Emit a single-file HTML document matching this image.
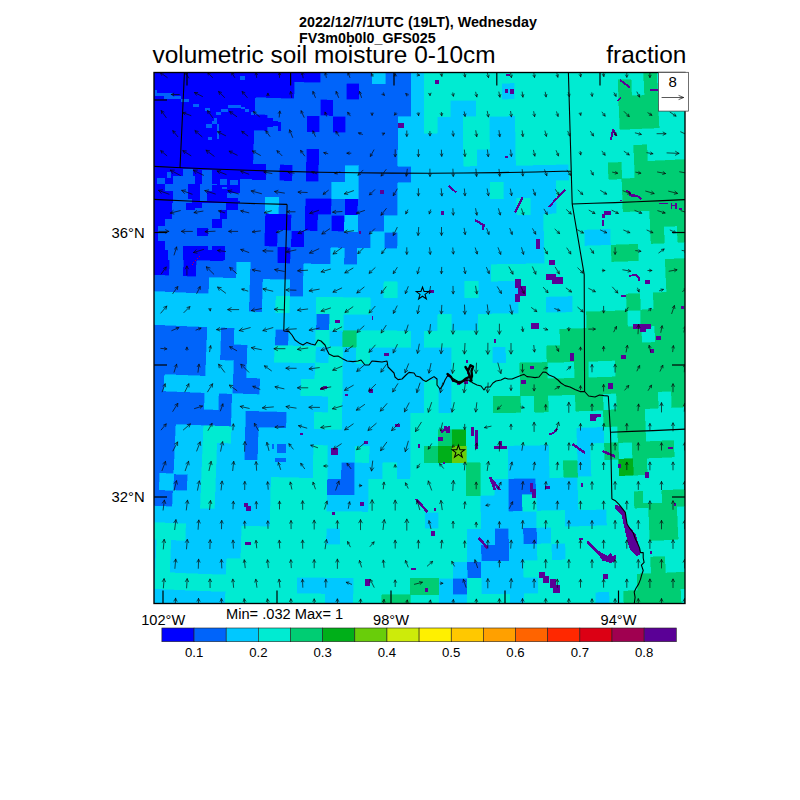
<!DOCTYPE html>
<html><head><meta charset="utf-8"><title>volumetric soil moisture 0-10cm</title>
<style>
html,body{margin:0;padding:0;background:#fff;}
body{width:800px;height:800px;overflow:hidden;font-family:"Liberation Sans",Arial,Helvetica,sans-serif;}
svg{display:block;}
svg text{font-family:"Liberation Sans",Arial,Helvetica,sans-serif;fill:#000;}
</style></head><body>
<svg width="800" height="800" viewBox="0 0 800 800">
<rect width="800" height="800" fill="#fff"/>
<defs><clipPath id="cp"><rect x="154" y="72.5" width="531" height="531"/></clipPath></defs>
<g clip-path="url(#cp)">
<rect x="150" y="70" width="540" height="540" fill="#00ebd2"/>
<g shape-rendering="crispEdges" transform="translate(-1.9,1.3)">
<path fill="#0000ff" stroke="#0000ff" stroke-width="0.6" d="M142.5,58.4 155.4,59.1 168.2,59.8 181.1,60.4 194,61 206.9,61.5 219.8,62.1 232.6,62.5 245.5,63 258.4,63.4 271.3,63.8 284.2,64.2 297.1,64.5 310,64.8 322.8,65.1 322.5,81.6 309.6,81.3 296.7,81 283.7,80.7 270.8,80.3 257.9,79.9 245,79.5 232,79 219.1,78.5 206.2,78 193.3,77.5 180.3,76.9 167.4,76.3 154.5,75.6 141.6,74.9zM141.6,74.9 154.5,75.6 167.4,76.3 180.3,76.9 193.3,77.5 206.2,78 219.1,78.5 232,79 245,79.5 257.9,79.9 270.8,80.3 283.7,80.7 296.7,81 296.3,97.5 283.3,97.2 270.3,96.8 257.4,96.4 244.4,96 231.4,95.5 218.5,95 205.5,94.5 192.5,93.9 179.6,93.4 166.6,92.7 153.6,92.1 140.7,91.4zM348.4,82 361.3,82.2 361.1,98.7 348.2,98.5zM140.7,91.4 153.6,92.1 166.6,92.7 179.6,93.4 192.5,93.9 205.5,94.5 218.5,95 231.4,95.5 244.4,96 257.4,96.4 256.8,112.9 243.8,112.5 230.8,112 217.8,111.5 204.8,111 191.8,110.4 178.8,109.8 165.8,109.2 152.8,108.5 139.8,107.9zM322.2,98.1 335.2,98.3 334.9,114.8 321.9,114.5zM139.8,107.9 152.8,108.5 165.8,109.2 178.8,109.8 191.8,110.4 204.8,111 217.8,111.5 230.8,112 243.8,112.5 256.8,112.9 269.8,113.3 269.4,129.8 256.3,129.4 243.3,128.9 230.2,128.5 217.2,128 204.1,127.5 191.1,126.9 178,126.3 165,125.7 151.9,125 138.9,124.3zM308.9,114.3 321.9,114.5 321.6,131 308.5,130.8zM334.9,114.8 347.9,115 347.7,131.5 334.6,131.3zM138.9,124.3 151.9,125 165,125.7 178,126.3 191.1,126.9 204.1,127.5 217.2,128 230.2,128.5 243.3,128.9 256.3,129.4 255.8,145.8 242.7,145.4 229.6,145 216.5,144.5 203.4,143.9 190.3,143.4 177.3,142.8 164.2,142.1 151.1,141.5 138,140.8zM138,140.8 151.1,141.5 164.2,142.1 177.3,142.8 190.3,143.4 203.4,143.9 216.5,144.5 229.6,145 242.7,145.4 255.8,145.8 255.3,162.3 242.1,161.9 229,161.4 215.9,160.9 202.7,160.4 189.6,159.8 176.5,159.2 163.4,158.6 150.2,157.9 137.1,157.2zM308.2,147.2 321.3,147.5 320.9,164 307.8,163.7zM137.1,157.2 150.2,157.9 163.4,158.6 176.5,159.2 189.6,159.8 202.7,160.4 215.9,160.9 229,161.4 242.1,161.9 255.3,162.3 268.4,162.7 267.9,179.2 254.7,178.8 241.6,178.4 228.4,177.9 215.2,177.4 202,176.9 188.9,176.3 175.7,175.7 162.5,175.1 149.4,174.4 136.2,173.7zM281.5,163.1 294.7,163.4 294.3,179.9 281.1,179.6zM307.8,163.7 320.9,164 320.6,180.5 307.5,180.2zM136.2,173.7 149.4,174.4 162.5,175.1 161.7,191.5 148.5,190.8 135.3,190.1zM188.9,176.3 202,176.9 201.4,193.3 188.1,192.8zM215.2,177.4 228.4,177.9 241.6,178.4 241,194.8 227.8,194.4 214.6,193.9zM135.3,190.1 148.5,190.8 161.7,191.5 174.9,192.1 174.2,208.6 160.9,208 147.7,207.3 134.4,206.6zM188.1,192.8 201.4,193.3 214.6,193.9 213.9,210.3 200.7,209.8 187.4,209.2zM307.1,196.7 320.3,196.9 333.5,197.2 333.3,213.7 320,213.4 306.7,213.1zM346.8,197.4 360,197.6 359.8,214 346.5,213.9zM134.4,206.6 147.7,207.3 160.9,208 174.2,208.6 173.4,225.1 160.1,224.4 146.8,223.8 133.5,223zM213.9,210.3 227.2,210.8 226.6,227.3 213.3,226.8zM267,212.1 280.2,212.5 293.5,212.8 293.1,229.3 279.8,229 266.5,228.6zM306.7,213.1 320,213.4 319.7,229.9 306.4,229.6zM333.3,213.7 346.5,213.9 346.3,230.3 333,230.1zM133.5,223 146.8,223.8 146,240.2 132.6,239.5zM266.5,228.6 279.8,229 279.3,245.4 266,245.1zM293.1,229.3 306.4,229.6 306,246.1 292.7,245.8zM132.6,239.5 146,240.2 159.3,240.9 172.6,241.5 171.9,258 158.5,257.3 145.1,256.7 131.7,255.9zM186,242.1 199.3,242.7 212.6,243.2 226,243.7 225.4,260.2 212,259.7 198.6,259.2 185.2,258.6zM279.3,245.4 292.7,245.8 292.3,262.3 278.9,261.9zM131.7,255.9 145.1,256.7 158.5,257.3 171.9,258 171.1,274.4 157.7,273.8 144.3,273.1 130.8,272.4zM185.2,258.6 198.6,259.2 197.9,275.6 184.5,275z"/>
<path fill="#0064fa" stroke="#0064fa" stroke-width="0.6" d="M322.8,65.1 335.7,65.3 348.6,65.5 361.5,65.7 374.4,65.8 374.3,82.3 361.3,82.2 348.4,82 335.5,81.8 322.5,81.6zM387.3,65.9 400.2,66 413.1,66 413.1,82.5 400.1,82.5 387.2,82.4zM296.7,81 309.6,81.3 322.5,81.6 335.5,81.8 348.4,82 348.2,98.5 335.2,98.3 322.2,98.1 309.2,97.8 296.3,97.5zM361.3,82.2 374.3,82.3 387.2,82.4 400.1,82.5 413.1,82.5 413,99 400.1,99 387.1,98.9 374.1,98.8 361.1,98.7zM257.4,96.4 270.3,96.8 283.3,97.2 296.3,97.5 309.2,97.8 322.2,98.1 321.9,114.5 308.9,114.3 295.9,114 282.9,113.7 269.8,113.3 256.8,112.9zM335.2,98.3 348.2,98.5 361.1,98.7 374.1,98.8 387.1,98.9 400.1,99 413,99 413,115.5 400,115.5 387,115.4 374,115.3 360.9,115.1 347.9,115 334.9,114.8zM269.8,113.3 282.9,113.7 295.9,114 308.9,114.3 308.5,130.8 295.5,130.5 282.4,130.1 269.4,129.8zM321.9,114.5 334.9,114.8 334.6,131.3 321.6,131zM347.9,115 360.9,115.1 374,115.3 387,115.4 400,115.5 399.9,131.9 386.9,131.9 373.8,131.8 360.7,131.6 347.7,131.5zM256.3,129.4 269.4,129.8 282.4,130.1 295.5,130.5 308.5,130.8 321.6,131 334.6,131.3 347.7,131.5 360.7,131.6 373.8,131.8 386.9,131.9 399.9,131.9 399.9,148.4 386.8,148.4 373.7,148.3 360.6,148.1 347.5,148 334.4,147.7 321.3,147.5 308.2,147.2 295.1,146.9 282,146.6 268.9,146.2 255.8,145.8zM255.8,145.8 268.9,146.2 282,146.6 295.1,146.9 308.2,147.2 307.8,163.7 294.7,163.4 281.5,163.1 268.4,162.7 255.3,162.3zM321.3,147.5 334.4,147.7 347.5,148 360.6,148.1 373.7,148.3 386.8,148.4 399.9,148.4 399.8,164.9 386.6,164.8 373.5,164.7 360.4,164.6 347.2,164.4 334.1,164.2 320.9,164zM268.4,162.7 281.5,163.1 281.1,179.6 267.9,179.2zM294.7,163.4 307.8,163.7 307.5,180.2 294.3,179.9zM320.9,164 334.1,164.2 347.2,164.4 347,180.9 333.8,180.7 320.6,180.5zM360.4,164.6 373.5,164.7 386.6,164.8 399.8,164.9 412.9,164.9 412.9,181.4 399.7,181.4 386.5,181.3 373.4,181.2 360.2,181.1zM162.5,175.1 175.7,175.7 188.9,176.3 188.1,192.8 174.9,192.1 161.7,191.5zM202,176.9 215.2,177.4 214.6,193.9 201.4,193.3zM241.6,178.4 254.7,178.8 267.9,179.2 281.1,179.6 294.3,179.9 307.5,180.2 320.6,180.5 333.8,180.7 333.5,197.2 320.3,196.9 307.1,196.7 293.9,196.4 280.7,196 267.4,195.7 254.2,195.3 241,194.8zM360.2,181.1 373.4,181.2 386.5,181.3 399.7,181.4 399.7,197.9 386.4,197.8 373.2,197.7 360,197.6zM174.9,192.1 188.1,192.8 187.4,209.2 174.2,208.6zM214.6,193.9 227.8,194.4 241,194.8 254.2,195.3 267.4,195.7 267,212.1 253.7,211.7 240.4,211.3 227.2,210.8 213.9,210.3zM280.7,196 293.9,196.4 307.1,196.7 306.7,213.1 293.5,212.8 280.2,212.5zM333.5,197.2 346.8,197.4 346.5,213.9 333.3,213.7zM360,197.6 373.2,197.7 386.4,197.8 399.7,197.9 399.6,214.3 386.3,214.3 373.1,214.2 359.8,214zM174.2,208.6 187.4,209.2 200.7,209.8 213.9,210.3 213.3,226.8 200,226.2 186.7,225.7 173.4,225.1zM227.2,210.8 240.4,211.3 253.7,211.7 267,212.1 266.5,228.6 253.2,228.2 239.9,227.8 226.6,227.3zM293.5,212.8 306.7,213.1 306.4,229.6 293.1,229.3zM320,213.4 333.3,213.7 333,230.1 319.7,229.9zM359.8,214 373.1,214.2 386.3,214.3 386.2,230.7 372.9,230.6 359.6,230.5zM146.8,223.8 160.1,224.4 173.4,225.1 186.7,225.7 200,226.2 213.3,226.8 226.6,227.3 239.9,227.8 253.2,228.2 266.5,228.6 266,245.1 252.7,244.7 239.3,244.2 226,243.7 212.6,243.2 199.3,242.7 186,242.1 172.6,241.5 159.3,240.9 146,240.2zM279.8,229 293.1,229.3 292.7,245.8 279.3,245.4zM306.4,229.6 319.7,229.9 333,230.1 346.3,230.3 359.6,230.5 372.9,230.6 372.8,247.1 359.4,247 346.1,246.8 332.7,246.6 319.4,246.4 306,246.1zM386.2,230.7 399.5,230.8 399.4,247.3 386.1,247.2zM172.6,241.5 186,242.1 185.2,258.6 171.9,258zM226,243.7 239.3,244.2 252.7,244.7 266,245.1 279.3,245.4 278.9,261.9 265.5,261.5 252.1,261.1 238.7,260.7 225.4,260.2zM292.7,245.8 306,246.1 319.4,246.4 332.7,246.6 332.4,263.1 319.1,262.8 305.7,262.6 292.3,262.3zM346.1,246.8 359.4,247 359.2,263.4 345.8,263.3zM171.9,258 185.2,258.6 184.5,275 171.1,274.4zM198.6,259.2 212,259.7 225.4,260.2 238.7,260.7 238.2,277.1 224.8,276.7 211.3,276.2 197.9,275.6zM252.1,261.1 265.5,261.5 278.9,261.9 292.3,262.3 305.7,262.6 305.3,279 291.9,278.7 278.5,278.4 265,278 251.6,277.6zM130.8,272.4 144.3,273.1 157.7,273.8 171.1,274.4 184.5,275 197.9,275.6 211.3,276.2 210.7,292.6 197.2,292.1 183.8,291.5 170.3,290.9 156.9,290.2 143.4,289.6 130,288.8zM251.6,277.6 265,278 264.5,294.5 251.1,294.1zM291.9,278.7 305.3,279 305,295.5 291.5,295.2zM251.1,294.1 264.5,294.5 264.1,310.9 250.6,310.5zM318.1,312.2 331.6,312.5 331.3,328.9 317.8,328.7zM128.2,321.7 141.7,322.5 155.2,323.1 168.8,323.8 182.3,324.4 195.9,325 209.4,325.5 208.8,342 195.2,341.4 181.6,340.9 168,340.2 154.4,339.6 140.8,338.9 127.3,338.2zM222.9,326.1 236.5,326.5 235.9,343 222.3,342.5zM277.1,327.8 290.7,328.1 290.3,344.6 276.7,344.2zM127.3,338.2 140.8,338.9 154.4,339.6 168,340.2 181.6,340.9 195.2,341.4 208.8,342 208.1,358.5 194.5,357.9 180.9,357.3 167.2,356.7 153.6,356 140,355.4 126.4,354.6zM222.3,342.5 235.9,343 249.5,343.4 249,359.9 235.4,359.5 221.7,359zM126.4,354.6 140,355.4 153.6,356 167.2,356.7 180.9,357.3 194.5,357.9 208.1,358.5 207.5,374.9 193.8,374.4 180.1,373.8 166.5,373.2 152.8,372.5 139.1,371.8 125.5,371.1zM235.4,359.5 249,359.9 248.5,376.4 234.8,375.9zM125.5,371.1 139.1,371.8 152.8,372.5 166.5,373.2 165.7,389.6 152,389 138.3,388.3 124.6,387.5zM234.8,375.9 248.5,376.4 262.1,376.8 261.7,393.3 247.9,392.8 234.2,392.4zM124.6,387.5 138.3,388.3 152,389 165.7,389.6 179.4,390.2 193.1,390.8 206.8,391.4 206.2,407.9 192.4,407.3 178.7,406.7 164.9,406.1 151.2,405.4 137.4,404.7 123.7,404zM220.5,391.9 234.2,392.4 233.7,408.9 219.9,408.4zM123.7,404 137.4,404.7 151.2,405.4 164.9,406.1 178.7,406.7 192.4,407.3 206.2,407.9 219.9,408.4 233.7,408.9 233.1,425.3 219.3,424.8 205.5,424.3 191.7,423.8 177.9,423.2 164.1,422.5 150.4,421.9 136.6,421.2 122.8,420.4zM247.4,409.3 261.2,409.7 274.9,410.1 288.7,410.5 288.3,426.9 274.5,426.6 260.7,426.2 246.9,425.8zM122.8,420.4 136.6,421.2 150.4,421.9 164.1,422.5 177.9,423.2 177.2,439.6 163.4,439 149.5,438.3 135.7,437.6 121.9,436.9zM246.9,425.8 260.7,426.2 260.2,442.7 246.4,442.3zM121.9,436.9 135.7,437.6 149.5,438.3 163.4,439 177.2,439.6 176.5,456.1 162.6,455.5 148.7,454.8 134.9,454.1 121,453.4zM246.4,442.3 260.2,442.7 259.7,459.2 245.9,458.7zM121,453.4 134.9,454.1 148.7,454.8 162.6,455.5 176.5,456.1 175.7,472.6 161.8,471.9 147.9,471.3 134,470.6 120.1,469.8zM343,461 356.9,461.1 356.7,477.6 342.8,477.5zM120.1,469.8 134,470.6 147.9,471.3 161.8,471.9 161.1,488.4 147.1,487.7 133.2,487 119.2,486.3zM175.7,472.6 189.7,473.2 189,489.7 175,489.1zM328.9,477.2 342.8,477.5 356.7,477.6 356.5,494.1 342.6,493.9 328.6,493.7zM509.9,477.3 523.8,477.1 537.8,476.8 538.1,493.3 524.2,493.5 510.2,493.8zM119.2,486.3 133.2,487 147.1,487.7 161.1,488.4 175,489.1 174.3,505.5 160.3,504.9 146.3,504.2 132.3,503.5 118.3,502.8zM510.2,493.8 524.2,493.5 524.5,510 510.4,510.3zM496.7,527 510.7,526.8 511,543.3 496.9,543.5zM524.8,526.5 538.8,526.3 539.2,542.8 525.1,543zM482.8,543.7 496.9,543.5 511,543.3 511.2,559.8 497.1,560 483,560.2zM468.8,560.3 483,560.2 483.2,576.7 469,576.8zM454.8,576.9 469,576.8 469.1,593.3 454.9,593.4z"/>
<path fill="#00c8ff" stroke="#00c8ff" stroke-width="0.6" d="M374.4,65.8 387.3,65.9 387.2,82.4 374.3,82.3zM413.1,66 426,66 426,82.5 413.1,82.5zM413.1,82.5 426,82.5 426,99 413,99zM503.6,81.9 516.5,81.6 516.8,98.1 503.9,98.3zM413,99 426,99 426,115.5 413,115.5zM452,98.9 464.9,98.8 477.9,98.7 478.1,115.2 465.1,115.3 452.1,115.4zM400,115.5 413,115.5 426,115.5 426,132 413,132 399.9,131.9zM439,115.5 452.1,115.4 465.1,115.3 465.2,131.8 452.2,131.9 439.1,132zM491.1,115 504.1,114.8 517.1,114.6 517.4,131.1 504.4,131.3 491.3,131.5zM399.9,131.9 413,132 426,132 439.1,132 452.2,131.9 465.2,131.8 465.4,148.3 452.3,148.4 439.2,148.4 426.1,148.5 413,148.5 399.9,148.4zM491.3,131.5 504.4,131.3 517.4,131.1 517.7,147.6 504.6,147.8 491.5,148zM399.9,148.4 413,148.5 426.1,148.5 439.2,148.4 452.3,148.4 465.4,148.3 465.5,164.8 452.4,164.9 439.2,164.9 426.1,165 412.9,164.9 399.8,164.9zM478.4,148.2 491.5,148 504.6,147.8 517.7,147.6 518,164.1 504.9,164.3 491.8,164.5 478.6,164.6zM347.2,164.4 360.4,164.6 360.2,181.1 347,180.9zM412.9,164.9 426.1,165 439.2,164.9 452.4,164.9 465.5,164.8 478.6,164.6 491.8,164.5 504.9,164.3 518,164.1 531.2,163.8 544.3,163.5 557.5,163.2 570.6,162.8 571.1,179.3 557.9,179.7 544.7,180 531.5,180.3 518.4,180.5 505.2,180.8 492,181 478.8,181.1 465.6,181.2 452.4,181.3 439.3,181.4 426.1,181.4 412.9,181.4zM333.8,180.7 347,180.9 360.2,181.1 360,197.6 346.8,197.4 333.5,197.2zM399.7,181.4 412.9,181.4 426.1,181.4 439.3,181.4 452.4,181.3 465.6,181.2 478.8,181.1 492,181 492.2,197.4 479,197.6 465.8,197.7 452.5,197.8 439.3,197.9 426.1,197.9 412.9,197.9 399.7,197.9zM505.2,180.8 518.4,180.5 531.5,180.3 544.7,180 557.9,179.7 558.3,196.1 545.1,196.5 531.9,196.7 518.7,197 505.4,197.2zM267.4,195.7 280.7,196 280.2,212.5 267,212.1zM399.7,197.9 412.9,197.9 426.1,197.9 439.3,197.9 452.5,197.8 465.8,197.7 479,197.6 492.2,197.4 505.4,197.2 518.7,197 519,213.5 505.7,213.7 492.4,213.9 479.2,214.1 465.9,214.2 452.6,214.3 439.4,214.4 426.1,214.4 412.8,214.4 399.6,214.3zM531.9,196.7 545.1,196.5 558.3,196.1 558.7,212.6 545.5,212.9 532.2,213.2zM346.5,213.9 359.8,214 359.6,230.5 346.3,230.3zM386.3,214.3 399.6,214.3 412.8,214.4 426.1,214.4 439.4,214.4 452.6,214.3 465.9,214.2 479.2,214.1 492.4,213.9 505.7,213.7 519,213.5 532.2,213.2 545.5,212.9 545.9,229.4 532.6,229.7 519.3,230 506,230.2 492.7,230.4 479.4,230.5 466,230.7 452.7,230.8 439.4,230.8 426.1,230.9 412.8,230.9 399.5,230.8 386.2,230.7zM372.9,230.6 386.2,230.7 386.1,247.2 372.8,247.1zM399.5,230.8 412.8,230.9 426.1,230.9 439.4,230.8 452.7,230.8 466,230.7 479.4,230.5 492.7,230.4 506,230.2 519.3,230 532.6,229.7 545.9,229.4 546.3,245.9 532.9,246.2 519.6,246.4 506.2,246.7 492.9,246.9 479.5,247 466.2,247.1 452.8,247.2 439.5,247.3 426.1,247.3 412.8,247.3 399.4,247.3zM585.8,228.3 599.1,227.9 612.4,227.4 613,243.9 599.6,244.3 586.3,244.8zM332.7,246.6 346.1,246.8 345.8,263.3 332.4,263.1zM359.4,247 372.8,247.1 386.1,247.2 399.4,247.3 412.8,247.3 426.1,247.3 439.5,247.3 452.8,247.2 466.2,247.1 479.5,247 492.9,246.9 506.2,246.7 519.6,246.4 532.9,246.2 546.3,245.9 546.7,262.3 533.3,262.6 519.9,262.9 506.5,263.1 493.1,263.3 479.7,263.5 466.3,263.6 452.9,263.7 439.6,263.8 426.2,263.8 412.8,263.8 399.4,263.8 386,263.7 372.6,263.6 359.2,263.4zM238.7,260.7 252.1,261.1 251.6,277.6 238.2,277.1zM305.7,262.6 319.1,262.8 332.4,263.1 345.8,263.3 359.2,263.4 372.6,263.6 386,263.7 399.4,263.8 412.8,263.8 426.2,263.8 439.6,263.8 452.9,263.7 466.3,263.6 479.7,263.5 493.1,263.3 493.3,279.8 479.9,280 466.5,280.1 453,280.2 439.6,280.2 426.2,280.3 412.7,280.3 399.3,280.2 385.9,280.2 372.5,280.1 359,279.9 345.6,279.7 332.2,279.5 318.7,279.3 305.3,279zM211.3,276.2 224.8,276.7 238.2,277.1 251.6,277.6 251.1,294.1 237.6,293.6 224.2,293.1 210.7,292.6zM265,278 278.5,278.4 291.9,278.7 291.5,295.2 278,294.8 264.5,294.5zM305.3,279 318.7,279.3 332.2,279.5 345.6,279.7 359,279.9 372.5,280.1 385.9,280.2 385.8,296.6 372.3,296.5 358.8,296.4 345.4,296.2 331.9,296 318.4,295.8 305,295.5zM399.3,280.2 412.7,280.3 426.2,280.3 439.6,280.2 453,280.2 466.5,280.1 466.6,296.6 453.1,296.7 439.7,296.7 426.2,296.8 412.7,296.7 399.2,296.7zM479.9,280 493.3,279.8 506.8,279.6 520.2,279.4 520.5,295.8 507,296.1 493.5,296.3 480.1,296.4zM130,288.8 143.4,289.6 156.9,290.2 170.3,290.9 183.8,291.5 197.2,292.1 210.7,292.6 224.2,293.1 237.6,293.6 251.1,294.1 250.6,310.5 237.1,310.1 223.6,309.6 210,309.1 196.5,308.5 183,308 169.5,307.3 156,306.7 142.6,306 129.1,305.3zM264.5,294.5 278,294.8 277.6,311.3 264.1,310.9zM291.5,295.2 305,295.5 318.4,295.8 318.1,312.2 304.6,312 291.1,311.7zM372.3,296.5 385.8,296.6 399.2,296.7 412.7,296.7 426.2,296.8 439.7,296.7 453.1,296.7 466.6,296.6 480.1,296.4 493.5,296.3 507,296.1 520.5,295.8 520.8,312.3 507.3,312.5 493.8,312.7 480.3,312.9 466.7,313 453.2,313.1 439.7,313.2 426.2,313.2 412.7,313.2 399.2,313.2 385.7,313.1 372.2,313zM547.4,295.3 560.9,294.9 574.4,294.6 574.8,311 561.3,311.4 547.8,311.7zM129.1,305.3 142.6,306 156,306.7 169.5,307.3 183,308 196.5,308.5 210,309.1 223.6,309.6 237.1,310.1 250.6,310.5 264.1,310.9 277.6,311.3 291.1,311.7 304.6,312 318.1,312.2 317.8,328.7 304.2,328.4 290.7,328.1 277.1,327.8 263.6,327.4 250,327 236.5,326.5 222.9,326.1 209.4,325.5 195.9,325 182.3,324.4 168.8,323.8 155.2,323.1 141.7,322.5 128.2,321.7zM345.1,312.7 358.6,312.9 372.2,313 385.7,313.1 399.2,313.2 412.7,313.2 426.2,313.2 439.7,313.2 439.8,329.7 426.2,329.7 412.7,329.7 399.1,329.7 385.6,329.6 372,329.5 358.4,329.3 344.9,329.2zM453.2,313.1 466.7,313 480.3,312.9 480.4,329.4 466.9,329.5 453.3,329.6zM209.4,325.5 222.9,326.1 222.3,342.5 208.8,342zM236.5,326.5 250,327 263.6,327.4 277.1,327.8 276.7,344.2 263.1,343.9 249.5,343.4 235.9,343zM290.7,328.1 304.2,328.4 317.8,328.7 317.5,345.2 303.9,344.9 290.3,344.6zM331.3,328.9 344.9,329.2 344.7,345.6 331.1,345.4zM412.7,329.7 426.2,329.7 426.2,346.2 412.6,346.2zM208.8,342 222.3,342.5 221.7,359 208.1,358.5zM249.5,343.4 263.1,343.9 276.7,344.2 276.3,360.7 262.6,360.3 249,359.9zM317.5,345.2 331.1,345.4 330.8,361.9 317.2,361.6zM344.7,345.6 358.3,345.8 358.1,362.3 344.4,362.1zM371.9,345.9 385.4,346.1 399,346.1 412.6,346.2 426.2,346.2 439.8,346.1 453.4,346.1 453.5,362.5 439.9,362.6 426.3,362.6 412.6,362.6 399,362.6 385.3,362.5 371.7,362.4zM494.2,345.7 507.8,345.5 508.1,361.9 494.4,362.1zM208.1,358.5 221.7,359 235.4,359.5 234.8,375.9 221.1,375.4 207.5,374.9zM249,359.9 262.6,360.3 276.3,360.7 289.9,361.1 303.5,361.4 317.2,361.6 316.8,378.1 303.2,377.8 289.5,377.5 275.8,377.2 262.1,376.8 248.5,376.4zM344.4,362.1 358.1,362.3 371.7,362.4 385.3,362.5 399,362.6 412.6,362.6 426.3,362.6 439.9,362.6 453.5,362.5 453.6,379 439.9,379.1 426.3,379.1 412.6,379.1 398.9,379.1 385.2,379 371.6,378.9 357.9,378.7 344.2,378.6zM166.5,373.2 180.1,373.8 193.8,374.4 207.5,374.9 221.1,375.4 234.8,375.9 234.2,392.4 220.5,391.9 206.8,391.4 193.1,390.8 179.4,390.2 165.7,389.6zM262.1,376.8 275.8,377.2 289.5,377.5 303.2,377.8 302.8,394.3 289.1,394 275.4,393.6 261.7,393.3zM344.2,378.6 357.9,378.7 371.6,378.9 385.2,379 398.9,379.1 412.6,379.1 426.3,379.1 426.3,395.6 412.6,395.6 398.8,395.5 385.1,395.5 371.4,395.4 357.7,395.2 344,395zM439.9,379.1 453.6,379 453.7,395.5 440,395.6zM206.8,391.4 220.5,391.9 219.9,408.4 206.2,407.9zM234.2,392.4 247.9,392.8 261.7,393.3 275.4,393.6 289.1,394 302.8,394.3 316.5,394.6 330.2,394.8 330,411.3 316.2,411.1 302.5,410.8 288.7,410.5 274.9,410.1 261.2,409.7 247.4,409.3 233.7,408.9zM344,395 357.7,395.2 371.4,395.4 385.1,395.5 398.8,395.5 412.6,395.6 426.3,395.6 426.3,412.1 412.5,412.1 398.8,412 385,412 371.3,411.8 357.5,411.7 343.7,411.5zM440,395.6 453.7,395.5 453.8,412 440.1,412zM233.7,408.9 247.4,409.3 246.9,425.8 233.1,425.3zM288.7,410.5 302.5,410.8 316.2,411.1 315.9,427.5 302.1,427.3 288.3,426.9zM343.7,411.5 357.5,411.7 371.3,411.8 385,412 398.8,412 412.5,412.1 412.5,428.5 398.7,428.5 384.9,428.4 371.1,428.3 357.3,428.2 343.5,428zM177.9,423.2 191.7,423.8 205.5,424.3 204.9,440.8 191,440.2 177.2,439.6zM233.1,425.3 246.9,425.8 246.4,442.3 232.5,441.8zM260.7,426.2 274.5,426.6 288.3,426.9 302.1,427.3 315.9,427.5 329.7,427.8 343.5,428 357.3,428.2 371.1,428.3 384.9,428.4 398.7,428.5 412.5,428.5 412.5,445 398.6,445 384.8,444.9 371,444.8 357.1,444.7 343.3,444.5 329.4,444.3 315.6,444 301.7,443.7 287.9,443.4 274.1,443.1 260.2,442.7zM578.1,426.3 591.9,425.9 605.7,425.5 606.3,441.9 592.4,442.4 578.6,442.8zM177.2,439.6 191,440.2 204.9,440.8 204.2,457.3 190.4,456.7 176.5,456.1zM218.7,441.3 232.5,441.8 246.4,442.3 245.9,458.7 232,458.3 218.1,457.8zM260.2,442.7 274.1,443.1 287.9,443.4 301.7,443.7 315.6,444 315.3,460.5 301.4,460.2 287.5,459.9 273.6,459.6 259.7,459.2zM329.4,444.3 343.3,444.5 357.1,444.7 356.9,461.1 343,461 329.1,460.8zM371,444.8 384.8,444.9 398.6,445 412.5,445 412.5,461.5 398.6,461.5 384.7,461.4 370.8,461.3zM509.4,444.3 523.2,444.1 537.1,443.8 550.9,443.5 551.3,460 537.4,460.3 523.5,460.6 509.7,460.8zM578.6,442.8 592.4,442.4 592.9,458.9 579.1,459.3zM176.5,456.1 190.4,456.7 204.2,457.3 203.6,473.7 189.7,473.2 175.7,472.6zM218.1,457.8 232,458.3 245.9,458.7 259.7,459.2 273.6,459.6 287.5,459.9 301.4,460.2 315.3,460.5 314.9,477 301,476.7 287.1,476.4 273.2,476 259.3,475.6 245.3,475.2 231.4,474.8 217.5,474.3zM329.1,460.8 343,461 342.8,477.5 328.9,477.2zM356.9,461.1 370.8,461.3 384.7,461.4 384.6,477.9 370.7,477.8 356.7,477.6zM398.6,461.5 412.5,461.5 412.4,478 398.5,478zM509.7,460.8 523.5,460.6 537.4,460.3 551.3,460 551.7,476.5 537.8,476.8 523.8,477.1 509.9,477.3zM579.1,459.3 592.9,458.9 593.5,475.3 579.5,475.7zM161.8,471.9 175.7,472.6 175,489.1 161.1,488.4zM189.7,473.2 203.6,473.7 202.9,490.2 189,489.7zM217.5,474.3 231.4,474.8 245.3,475.2 259.3,475.6 273.2,476 272.7,492.5 258.8,492.1 244.8,491.7 230.8,491.2 216.9,490.7zM356.7,477.6 370.7,477.8 370.5,494.3 356.5,494.1zM496,477.5 509.9,477.3 510.2,493.8 496.2,494zM537.8,476.8 551.7,476.5 565.6,476.1 579.5,475.7 580,492.2 566,492.6 552.1,493 538.1,493.3zM175,489.1 189,489.7 202.9,490.2 202.3,506.7 188.3,506.1 174.3,505.5zM216.9,490.7 230.8,491.2 244.8,491.7 258.8,492.1 272.7,492.5 272.3,509 258.3,508.6 244.3,508.2 230.3,507.7 216.3,507.2zM328.6,493.7 342.6,493.9 356.5,494.1 370.5,494.3 370.4,510.8 356.3,510.6 342.3,510.4 328.3,510.2zM482.3,494.2 496.2,494 510.2,493.8 510.4,510.3 496.4,510.5 482.4,510.7zM538.1,493.3 552.1,493 566,492.6 580,492.2 580.5,508.7 566.5,509.1 552.5,509.5 538.5,509.8zM118.3,502.8 132.3,503.5 146.3,504.2 160.3,504.9 174.3,505.5 188.3,506.1 202.3,506.7 216.3,507.2 230.3,507.7 244.3,508.2 258.3,508.6 272.3,509 271.9,525.5 257.8,525.1 243.8,524.7 229.7,524.2 215.7,523.7 201.6,523.2 187.6,522.6 173.6,522 159.5,521.4 145.5,520.7 131.5,520 117.4,519.2zM426.4,511 440.4,511 440.5,527.5 426.4,527.5zM482.4,510.7 496.4,510.5 510.4,510.3 524.5,510 538.5,509.8 538.8,526.3 524.8,526.5 510.7,526.8 496.7,527 482.6,527.2zM566.5,509.1 580.5,508.7 594.5,508.3 608.5,507.9 609,524.3 595,524.8 581,525.2 566.9,525.6zM187.6,522.6 201.6,523.2 215.7,523.7 229.7,524.2 243.8,524.7 243.2,541.2 229.2,540.7 215.1,540.2 201,539.7 186.9,539.1zM328,526.7 342.1,526.9 341.9,543.4 327.8,543.2zM468.6,527.3 482.6,527.2 496.7,527 496.9,543.5 482.8,543.7 468.7,543.8zM510.7,526.8 524.8,526.5 525.1,543 511,543.3zM538.8,526.3 552.9,525.9 553.2,542.4 539.2,542.8zM116.5,535.7 130.6,536.5 144.7,537.2 158.7,537.9 158,554.4 143.9,553.7 129.7,553 115.6,552.2zM172.8,538.5 186.9,539.1 201,539.7 215.1,540.2 229.2,540.7 243.2,541.2 242.7,557.7 228.6,557.2 214.5,556.7 200.3,556.2 186.2,555.6 172.1,555zM468.7,543.8 482.8,543.7 483,560.2 468.8,560.3zM511,543.3 525.1,543 539.2,542.8 539.5,559.3 525.4,559.5 511.2,559.8zM553.2,542.4 567.3,542.1 567.8,558.6 553.6,559zM115.6,552.2 129.7,553 143.9,553.7 158,554.4 157.2,570.8 143,570.2 128.9,569.5 114.7,568.7zM172.1,555 186.2,555.6 200.3,556.2 214.5,556.7 228.6,557.2 228,573.7 213.9,573.2 199.7,572.7 185.5,572.1 171.4,571.5zM454.7,560.4 468.8,560.3 469,576.8 454.8,576.9zM483,560.2 497.1,560 511.2,559.8 525.4,559.5 525.7,576.1 511.5,576.3 497.3,576.5 483.2,576.7zM114.7,568.7 128.9,569.5 143,570.2 157.2,570.8 156.4,587.4 142.2,586.7 128,585.9 113.8,585.2zM298.9,575.7 313.1,576 327.2,576.2 341.4,576.5 355.6,576.6 355.4,593.2 341.2,593 326.9,592.8 312.7,592.5 298.5,592.2zM440.6,577 454.8,576.9 454.9,593.4 440.7,593.5zM483.2,576.7 497.3,576.5 511.5,576.3 525.7,576.1 539.9,575.8 540.2,592.3 526,592.6 511.8,592.8 497.6,593 483.3,593.2zM113.8,585.2 128,585.9 142.2,586.7 156.4,587.4 170.6,588 184.8,588.6 199,589.2 213.3,589.7 227.5,590.2 226.9,606.7 212.6,606.2 198.4,605.7 184.1,605.1 169.9,604.5 155.7,603.9 141.4,603.2 127.2,602.5 112.9,601.7zM326.9,592.8 341.2,593 355.4,593.2 355.2,609.7 340.9,609.5 326.7,609.3zM440.7,593.5 454.9,593.4 469.1,593.3 469.3,609.9 455,610 440.7,610zM511.8,592.8 526,592.6 526.3,609.1 512,609.3zM597.1,590.8 611.3,590.4 611.8,606.9 597.6,607.3z"/>
<path fill="#00ebd2" stroke="#00ebd2" stroke-width="0.6" d="M426,66 438.9,66 451.8,65.9 464.7,65.8 477.5,65.7 490.4,65.5 503.3,65.4 516.2,65.1 529.1,64.9 542,64.6 554.9,64.3 567.8,63.9 580.7,63.5 593.5,63.1 606.4,62.7 619.3,62.2 632.2,61.7 645.1,61.1 645.8,77.6 632.9,78.2 619.9,78.7 607,79.2 594.1,79.6 581.2,80 568.2,80.4 555.3,80.8 542.4,81.1 529.5,81.4 516.5,81.6 503.6,81.9 490.7,82 477.7,82.2 464.8,82.3 451.9,82.4 438.9,82.5 426,82.5zM658,60.5 670.8,59.9 683.7,59.3 696.6,58.6 697.5,75.1 684.6,75.8 671.6,76.4 658.7,77zM426,82.5 438.9,82.5 451.9,82.4 464.8,82.3 477.7,82.2 490.7,82 503.6,81.9 503.9,98.3 490.9,98.5 477.9,98.7 464.9,98.8 452,98.9 439,99 426,99zM516.5,81.6 529.5,81.4 542.4,81.1 555.3,80.8 568.2,80.4 581.2,80 594.1,79.6 607,79.2 619.9,78.7 620.6,95.2 607.6,95.6 594.7,96.1 581.7,96.5 568.7,96.9 555.7,97.3 542.8,97.6 529.8,97.9 516.8,98.1zM632.9,78.2 645.8,77.6 646.5,94.1 633.6,94.6zM658.7,77 671.6,76.4 684.6,75.8 697.5,75.1 698.4,91.6 685.4,92.2 672.4,92.9 659.5,93.5zM426,99 439,99 452,98.9 452.1,115.4 439,115.5 426,115.5zM477.9,98.7 490.9,98.5 503.9,98.3 516.8,98.1 529.8,97.9 542.8,97.6 555.7,97.3 568.7,96.9 581.7,96.5 594.7,96.1 607.6,95.6 620.6,95.2 621.2,111.6 608.2,112.1 595.2,112.6 582.2,113 569.2,113.4 556.2,113.7 543.2,114.1 530.1,114.4 517.1,114.6 504.1,114.8 491.1,115 478.1,115.2zM659.5,93.5 672.4,92.9 685.4,92.2 698.4,91.6 699.2,108 686.2,108.7 673.2,109.4 660.2,110zM426,115.5 439,115.5 439.1,132 426,132zM465.1,115.3 478.1,115.2 491.1,115 491.3,131.5 478.3,131.7 465.2,131.8zM517.1,114.6 530.1,114.4 543.2,114.1 556.2,113.7 569.2,113.4 582.2,113 595.2,112.6 608.2,112.1 621.2,111.6 621.9,128.1 608.8,128.6 595.8,129.1 582.7,129.5 569.7,129.9 556.6,130.2 543.5,130.5 530.5,130.8 517.4,131.1zM660.2,110 673.2,109.4 686.2,108.7 699.2,108 700.1,124.5 687.1,125.2 674,125.8 661,126.5zM465.2,131.8 478.3,131.7 491.3,131.5 491.5,148 478.4,148.2 465.4,148.3zM517.4,131.1 530.5,130.8 543.5,130.5 556.6,130.2 569.7,129.9 582.7,129.5 595.8,129.1 608.8,128.6 621.9,128.1 634.9,127.6 648,127 661,126.5 674,125.8 687.1,125.2 700.1,124.5 701,141 687.9,141.6 674.8,142.3 661.8,142.9 648.7,143.5 635.6,144.1 622.5,144.6 609.4,145.1 596.3,145.5 583.2,146 570.1,146.3 557,146.7 543.9,147 530.8,147.3 517.7,147.6zM465.4,148.3 478.4,148.2 478.6,164.6 465.5,164.8zM517.7,147.6 530.8,147.3 543.9,147 557,146.7 570.1,146.3 583.2,146 596.3,145.5 609.4,145.1 622.5,144.6 635.6,144.1 636.3,160.5 623.1,161.1 610,161.5 596.9,162 583.7,162.4 570.6,162.8 557.5,163.2 544.3,163.5 531.2,163.8 518,164.1zM648.7,143.5 661.8,142.9 674.8,142.3 687.9,141.6 701,141 701.9,157.4 688.8,158.1 675.6,158.8 662.5,159.4 649.4,160zM570.6,162.8 583.7,162.4 596.9,162 610,161.5 610.6,178 597.4,178.5 584.2,178.9 571.1,179.3zM623.1,161.1 636.3,160.5 636.9,177 623.8,177.5zM492,181 505.2,180.8 505.4,197.2 492.2,197.4zM557.9,179.7 571.1,179.3 584.2,178.9 597.4,178.5 610.6,178 623.8,177.5 624.4,194 611.2,194.5 598,194.9 584.8,195.4 571.5,195.8 558.3,196.1zM518.7,197 531.9,196.7 532.2,213.2 519,213.5zM558.3,196.1 571.5,195.8 584.8,195.4 598,194.9 611.2,194.5 624.4,194 625,210.5 611.8,210.9 598.5,211.4 585.3,211.8 572,212.2 558.7,212.6zM545.5,212.9 558.7,212.6 572,212.2 585.3,211.8 598.5,211.4 611.8,210.9 625,210.5 638.3,209.9 651.5,209.4 652.3,225.8 639,226.4 625.7,226.9 612.4,227.4 599.1,227.9 585.8,228.3 572.5,228.7 559.2,229.1 545.9,229.4zM545.9,229.4 559.2,229.1 572.5,228.7 585.8,228.3 586.3,244.8 573,245.2 559.6,245.5 546.3,245.9zM612.4,227.4 625.7,226.9 639,226.4 652.3,225.8 653,242.3 639.6,242.8 626.3,243.4 613,243.9zM665.6,225.2 678.9,224.6 679.7,241 666.3,241.7zM546.3,245.9 559.6,245.5 573,245.2 586.3,244.8 599.6,244.3 613,243.9 613.6,260.3 600.2,260.8 586.8,261.2 573.4,261.6 560,262 546.7,262.3zM639.6,242.8 653,242.3 666.3,241.7 679.7,241 693,240.4 706.3,239.7 707.2,256.1 693.8,256.8 680.5,257.5 667.1,258.1 653.7,258.7 640.3,259.3zM493.1,263.3 506.5,263.1 519.9,262.9 533.3,262.6 546.7,262.3 560,262 573.4,261.6 586.8,261.2 600.2,260.8 613.6,260.3 626.9,259.8 640.3,259.3 653.7,258.7 667.1,258.1 667.8,274.6 654.4,275.2 641,275.8 627.6,276.3 614.2,276.8 600.7,277.3 587.3,277.7 573.9,278.1 560.5,278.5 547,278.8 533.6,279.1 520.2,279.4 506.8,279.6 493.3,279.8zM385.9,280.2 399.3,280.2 399.2,296.7 385.8,296.6zM466.5,280.1 479.9,280 480.1,296.4 466.6,296.6zM520.2,279.4 533.6,279.1 547,278.8 560.5,278.5 573.9,278.1 587.3,277.7 600.7,277.3 614.2,276.8 627.6,276.3 641,275.8 654.4,275.2 667.8,274.6 668.6,291 655.1,291.6 641.7,292.2 628.2,292.8 614.8,293.3 601.3,293.7 587.8,294.2 574.4,294.6 560.9,294.9 547.4,295.3 534,295.6 520.5,295.8zM278,294.8 291.5,295.2 291.1,311.7 277.6,311.3zM318.4,295.8 331.9,296 345.4,296.2 358.8,296.4 372.3,296.5 372.2,313 358.6,312.9 345.1,312.7 331.6,312.5 318.1,312.2zM520.5,295.8 534,295.6 547.4,295.3 547.8,311.7 534.3,312 520.8,312.3zM574.4,294.6 587.8,294.2 601.3,293.7 614.8,293.3 628.2,292.8 628.9,309.2 615.4,309.7 601.8,310.2 588.3,310.6 574.8,311zM641.7,292.2 655.1,291.6 655.9,308.1 642.4,308.7zM331.6,312.5 345.1,312.7 344.9,329.2 331.3,328.9zM439.7,313.2 453.2,313.1 453.3,329.6 439.8,329.7zM480.3,312.9 493.8,312.7 507.3,312.5 520.8,312.3 534.3,312 547.8,311.7 561.3,311.4 574.8,311 588.3,310.6 588.9,327.1 575.3,327.5 561.8,327.9 548.2,328.2 534.7,328.5 521.1,328.8 507.5,329 494,329.2 480.4,329.4zM628.9,309.2 642.4,308.7 643,325.1 629.5,325.7zM317.8,328.7 331.3,328.9 331.1,345.4 317.5,345.2zM358.4,329.3 372,329.5 385.6,329.6 399.1,329.7 412.7,329.7 412.6,346.2 399,346.1 385.4,346.1 371.9,345.9 358.3,345.8zM426.2,329.7 439.8,329.7 453.3,329.6 466.9,329.5 480.4,329.4 494,329.2 507.5,329 521.1,328.8 534.7,328.5 548.2,328.2 561.8,327.9 562.2,344.3 548.6,344.7 535,345 521.4,345.2 507.8,345.5 494.2,345.7 480.6,345.8 467,346 453.4,346.1 439.8,346.1 426.2,346.2zM643,325.1 656.6,324.6 657.3,341 643.7,341.6zM276.7,344.2 290.3,344.6 303.9,344.9 317.5,345.2 317.2,361.6 303.5,361.4 289.9,361.1 276.3,360.7zM331.1,345.4 344.7,345.6 344.4,362.1 330.8,361.9zM358.3,345.8 371.9,345.9 371.7,362.4 358.1,362.3zM453.4,346.1 467,346 480.6,345.8 494.2,345.7 494.4,362.1 480.8,362.3 467.2,362.4 453.5,362.5zM507.8,345.5 521.4,345.2 535,345 548.6,344.7 549,361.1 535.3,361.4 521.7,361.7 508.1,361.9zM317.2,361.6 330.8,361.9 344.4,362.1 344.2,378.6 330.5,378.4 316.8,378.1zM453.5,362.5 467.2,362.4 480.8,362.3 494.4,362.1 508.1,361.9 521.7,361.7 522,378.2 508.3,378.4 494.7,378.6 481,378.8 467.3,378.9 453.6,379zM549,361.1 562.6,360.8 576.2,360.4 576.7,376.9 563,377.3 549.4,377.6zM589.9,360 603.5,359.6 617.1,359.1 617.7,375.6 604.1,376 590.4,376.5zM303.2,377.8 316.8,378.1 330.5,378.4 344.2,378.6 344,395 330.2,394.8 316.5,394.6 302.8,394.3zM426.3,379.1 439.9,379.1 440,395.6 426.3,395.6zM453.6,379 467.3,378.9 481,378.8 494.7,378.6 508.3,378.4 522,378.2 522.3,394.7 508.6,394.9 494.9,395.1 481.2,395.3 467.4,395.4 453.7,395.5zM330.2,394.8 344,395 343.7,411.5 330,411.3zM426.3,395.6 440,395.6 440.1,412 426.3,412.1zM453.7,395.5 467.4,395.4 481.2,395.3 494.9,395.1 495.1,411.6 481.3,411.7 467.6,411.9 453.8,412zM522.3,394.7 536,394.4 536.4,410.9 522.6,411.1zM549.8,394.1 563.5,393.7 577.2,393.4 577.7,409.8 563.9,410.2 550.1,410.6zM604.6,392.5 618.3,392 618.9,408.5 605.2,409zM659.5,390.4 673.2,389.8 673.9,406.2 660.2,406.9zM316.2,411.1 330,411.3 343.7,411.5 343.5,428 329.7,427.8 315.9,427.5zM412.5,412.1 426.3,412.1 440.1,412 453.8,412 467.6,411.9 481.3,411.7 495.1,411.6 508.9,411.4 522.6,411.1 536.4,410.9 550.1,410.6 563.9,410.2 577.7,409.8 591.4,409.4 605.2,409 605.7,425.5 591.9,425.9 578.1,426.3 564.3,426.7 550.5,427 536.7,427.3 522.9,427.6 509.1,427.8 495.3,428.1 481.5,428.2 467.7,428.4 453.9,428.5 440.1,428.5 426.3,428.6 412.5,428.5zM646.4,407.4 660.2,406.9 673.9,406.2 687.7,405.6 701.4,404.9 715.2,404.2 716,420.6 702.3,421.4 688.5,422 674.7,422.7 660.9,423.3 647.1,423.9zM205.5,424.3 219.3,424.8 233.1,425.3 232.5,441.8 218.7,441.3 204.9,440.8zM412.5,428.5 426.3,428.6 440.1,428.5 440.2,445 426.3,445 412.5,445zM467.7,428.4 481.5,428.2 495.3,428.1 509.1,427.8 522.9,427.6 536.7,427.3 550.5,427 564.3,426.7 578.1,426.3 578.6,442.8 564.8,443.2 550.9,443.5 537.1,443.8 523.2,444.1 509.4,444.3 495.6,444.5 481.7,444.7 467.9,444.8zM605.7,425.5 619.5,425 620.1,441.4 606.3,441.9zM647.1,423.9 660.9,423.3 674.7,422.7 688.5,422 702.3,421.4 716,420.6 716.9,437.1 703.1,437.8 689.3,438.5 675.4,439.2 661.6,439.8 647.8,440.4zM204.9,440.8 218.7,441.3 218.1,457.8 204.2,457.3zM315.6,444 329.4,444.3 329.1,460.8 315.3,460.5zM357.1,444.7 371,444.8 370.8,461.3 356.9,461.1zM412.5,445 426.3,445 426.3,461.5 412.5,461.5zM467.9,444.8 481.7,444.7 495.6,444.5 509.4,444.3 509.7,460.8 495.8,461 481.9,461.2 468,461.3zM550.9,443.5 564.8,443.2 578.6,442.8 579.1,459.3 565.2,459.6 551.3,460zM592.4,442.4 606.3,441.9 606.8,458.4 592.9,458.9zM620.1,441.4 633.9,440.9 634.6,457.4 620.7,457.9zM675.4,439.2 689.3,438.5 703.1,437.8 716.9,437.1 717.8,453.6 703.9,454.3 690.1,455 676.2,455.6zM204.2,457.3 218.1,457.8 217.5,474.3 203.6,473.7zM315.3,460.5 329.1,460.8 328.9,477.2 314.9,477zM384.7,461.4 398.6,461.5 398.5,478 384.6,477.9zM412.5,461.5 426.3,461.5 440.2,461.5 454.1,461.4 468,461.3 468.1,477.8 454.2,477.9 440.3,478 426.4,478 412.4,478zM481.9,461.2 495.8,461 509.7,460.8 509.9,477.3 496,477.5 482.1,477.7zM551.3,460 565.2,459.6 565.6,476.1 551.7,476.5zM592.9,458.9 606.8,458.4 620.7,457.9 621.3,474.4 607.4,474.9 593.5,475.3zM648.5,456.8 662.3,456.3 676.2,455.6 690.1,455 703.9,454.3 717.8,453.6 718.7,470 704.8,470.8 690.9,471.4 677,472.1 663.1,472.7 649.1,473.3zM203.6,473.7 217.5,474.3 216.9,490.7 202.9,490.2zM273.2,476 287.1,476.4 301,476.7 314.9,477 328.9,477.2 328.6,493.7 314.6,493.5 300.7,493.2 286.7,492.9 272.7,492.5zM370.7,477.8 384.6,477.9 398.5,478 412.4,478 426.4,478 440.3,478 454.2,477.9 468.1,477.8 468.3,494.3 454.3,494.4 440.3,494.5 426.4,494.5 412.4,494.5 398.4,494.5 384.5,494.4 370.5,494.3zM482.1,477.7 496,477.5 496.2,494 482.3,494.2zM579.5,475.7 593.5,475.3 607.4,474.9 621.3,474.4 635.2,473.9 649.1,473.3 663.1,472.7 677,472.1 690.9,471.4 704.8,470.8 718.7,470 719.6,486.5 705.6,487.2 691.7,487.9 677.7,488.6 663.8,489.2 649.8,489.8 635.9,490.4 621.9,490.9 607.9,491.4 594,491.8 580,492.2zM202.9,490.2 216.9,490.7 216.3,507.2 202.3,506.7zM272.7,492.5 286.7,492.9 300.7,493.2 314.6,493.5 328.6,493.7 328.3,510.2 314.3,510 300.3,509.7 286.3,509.4 272.3,509zM370.5,494.3 384.5,494.4 398.4,494.5 412.4,494.5 426.4,494.5 440.3,494.5 454.3,494.4 468.3,494.3 482.3,494.2 482.4,510.7 468.4,510.8 454.4,510.9 440.4,511 426.4,511 412.4,511 398.4,511 384.4,510.9 370.4,510.8zM524.2,493.5 538.1,493.3 538.5,509.8 524.5,510zM580,492.2 594,491.8 607.9,491.4 621.9,490.9 635.9,490.4 636.5,506.8 622.5,507.4 608.5,507.9 594.5,508.3 580.5,508.7zM649.8,489.8 663.8,489.2 664.5,505.7 650.5,506.3zM272.3,509 286.3,509.4 300.3,509.7 314.3,510 328.3,510.2 342.3,510.4 356.3,510.6 370.4,510.8 384.4,510.9 398.4,511 412.4,511 426.4,511 426.4,527.5 412.4,527.5 398.3,527.5 384.3,527.4 370.2,527.3 356.2,527.1 342.1,526.9 328,526.7 314,526.5 300,526.2 285.9,525.9 271.9,525.5zM440.4,511 454.4,510.9 468.4,510.8 482.4,510.7 482.6,527.2 468.6,527.3 454.5,527.4 440.5,527.5zM538.5,509.8 552.5,509.5 566.5,509.1 566.9,525.6 552.9,525.9 538.8,526.3zM608.5,507.9 622.5,507.4 636.5,506.8 650.5,506.3 651.2,522.8 637.1,523.3 623.1,523.9 609,524.3zM678.5,505.1 692.5,504.4 706.5,503.7 720.5,503 721.3,519.4 707.3,520.2 693.3,520.9 679.2,521.5zM117.4,519.2 131.5,520 145.5,520.7 159.5,521.4 173.6,522 187.6,522.6 186.9,539.1 172.8,538.5 158.7,537.9 144.7,537.2 130.6,536.5 116.5,535.7zM243.8,524.7 257.8,525.1 271.9,525.5 285.9,525.9 300,526.2 314,526.5 328,526.7 327.8,543.2 313.7,543 299.6,542.7 285.5,542.4 271.4,542 257.3,541.6 243.2,541.2zM342.1,526.9 356.2,527.1 370.2,527.3 384.3,527.4 398.3,527.5 412.4,527.5 426.4,527.5 440.5,527.5 454.5,527.4 468.6,527.3 468.7,543.8 454.6,543.9 440.5,544 426.4,544 412.3,544 398.2,544 384.1,543.9 370.1,543.8 356,543.6 341.9,543.4zM552.9,525.9 566.9,525.6 581,525.2 595,524.8 609,524.3 623.1,523.9 637.1,523.3 651.2,522.8 651.8,539.3 637.8,539.8 623.7,540.3 609.6,540.8 595.5,541.3 581.4,541.7 567.3,542.1 553.2,542.4zM679.2,521.5 693.3,520.9 707.3,520.2 721.3,519.4 722.2,535.9 708.2,536.7 694.1,537.4 680,538zM158.7,537.9 172.8,538.5 172.1,555 158,554.4zM243.2,541.2 257.3,541.6 271.4,542 285.5,542.4 299.6,542.7 313.7,543 327.8,543.2 341.9,543.4 356,543.6 370.1,543.8 384.1,543.9 398.2,544 412.3,544 426.4,544 440.5,544 454.6,543.9 468.7,543.8 468.8,560.3 454.7,560.4 440.6,560.5 426.4,560.5 412.3,560.5 398.2,560.5 384,560.4 369.9,560.3 355.8,560.1 341.6,560 327.5,559.7 313.4,559.5 299.2,559.2 285.1,558.9 271,558.5 256.8,558.1 242.7,557.7zM539.2,542.8 553.2,542.4 553.6,559 539.5,559.3zM567.3,542.1 581.4,541.7 595.5,541.3 609.6,540.8 623.7,540.3 637.8,539.8 651.8,539.3 665.9,538.7 680,538 694.1,537.4 708.2,536.7 722.2,535.9 723.1,552.4 709,553.1 694.9,553.9 680.8,554.5 666.6,555.2 652.5,555.8 638.4,556.3 624.3,556.8 610.2,557.3 596,557.8 581.9,558.2 567.8,558.6zM158,554.4 172.1,555 171.4,571.5 157.2,570.8zM228.6,557.2 242.7,557.7 256.8,558.1 271,558.5 285.1,558.9 299.2,559.2 313.4,559.5 327.5,559.7 341.6,560 355.8,560.1 369.9,560.3 384,560.4 398.2,560.5 412.3,560.5 426.4,560.5 440.6,560.5 454.7,560.4 454.8,576.9 440.6,577 426.5,577 412.3,577 398.1,577 383.9,576.9 369.7,576.8 355.6,576.6 341.4,576.5 327.2,576.2 313.1,576 298.9,575.7 284.7,575.4 270.5,575 256.4,574.6 242.2,574.2 228,573.7zM525.4,559.5 539.5,559.3 553.6,559 567.8,558.6 581.9,558.2 596,557.8 610.2,557.3 624.3,556.8 638.4,556.3 652.5,555.8 653.2,572.3 639,572.8 624.9,573.3 610.7,573.8 596.5,574.3 582.4,574.7 568.2,575.1 554,575.5 539.9,575.8 525.7,576.1zM666.6,555.2 680.8,554.5 694.9,553.9 709,553.1 723.1,552.4 724,568.9 709.9,569.6 695.7,570.3 681.5,571 667.4,571.7zM157.2,570.8 171.4,571.5 185.5,572.1 199.7,572.7 213.9,573.2 228,573.7 242.2,574.2 256.4,574.6 270.5,575 284.7,575.4 298.9,575.7 298.5,592.2 284.3,591.9 270.1,591.5 255.9,591.1 241.7,590.7 227.5,590.2 213.3,589.7 199,589.2 184.8,588.6 170.6,588 156.4,587.4zM355.6,576.6 369.7,576.8 383.9,576.9 398.1,577 412.3,577 412.3,593.5 398,593.5 383.8,593.4 369.6,593.3 355.4,593.2zM469,576.8 483.2,576.7 483.3,593.2 469.1,593.3zM539.9,575.8 554,575.5 568.2,575.1 582.4,574.7 596.5,574.3 610.7,573.8 624.9,573.3 639,572.8 639.7,589.3 625.5,589.9 611.3,590.4 597.1,590.8 582.8,591.2 568.6,591.6 554.4,592 540.2,592.3zM227.5,590.2 241.7,590.7 255.9,591.1 270.1,591.5 284.3,591.9 298.5,592.2 312.7,592.5 326.9,592.8 326.7,609.3 312.4,609 298.2,608.7 283.9,608.4 269.7,608 255.4,607.7 241.1,607.2 226.9,606.7zM355.4,593.2 369.6,593.3 383.8,593.4 383.7,609.9 369.4,609.8 355.2,609.7zM412.3,593.5 426.5,593.5 440.7,593.5 440.7,610 426.5,610.1 412.2,610.1zM469.1,593.3 483.3,593.2 497.6,593 511.8,592.8 512,609.3 497.8,609.6 483.5,609.7 469.3,609.9zM526,592.6 540.2,592.3 554.4,592 568.6,591.6 582.8,591.2 597.1,590.8 597.6,607.3 583.3,607.8 569.1,608.1 554.8,608.5 540.5,608.8 526.3,609.1zM611.3,590.4 625.5,589.9 626.1,606.4 611.8,606.9zM682.3,587.5 696.5,586.8 710.7,586.1 724.9,585.4 725.8,601.9 711.5,602.6 697.3,603.4 683.1,604z"/>
<path fill="#00cd73" stroke="#00cd73" stroke-width="0.6" d="M645.1,61.1 658,60.5 658.7,77 645.8,77.6zM619.9,78.7 632.9,78.2 633.6,94.6 620.6,95.2zM645.8,77.6 658.7,77 659.5,93.5 646.5,94.1zM620.6,95.2 633.6,94.6 646.5,94.1 659.5,93.5 660.2,110 647.2,110.6 634.2,111.1 621.2,111.6zM621.2,111.6 634.2,111.1 647.2,110.6 660.2,110 661,126.5 648,127 634.9,127.6 621.9,128.1zM635.6,144.1 648.7,143.5 649.4,160 636.3,160.5zM610,161.5 623.1,161.1 623.8,177.5 610.6,178zM636.3,160.5 649.4,160 662.5,159.4 675.6,158.8 688.8,158.1 701.9,157.4 702.8,173.9 689.6,174.6 676.4,175.2 663.3,175.8 650.1,176.4 636.9,177zM623.8,177.5 636.9,177 650.1,176.4 663.3,175.8 676.4,175.2 689.6,174.6 702.8,173.9 703.7,190.3 690.5,191 677.2,191.7 664,192.3 650.8,192.9 637.6,193.5 624.4,194zM624.4,194 637.6,193.5 650.8,192.9 664,192.3 677.2,191.7 690.5,191 703.7,190.3 704.5,206.8 691.3,207.5 678,208.1 664.8,208.8 651.5,209.4 638.3,209.9 625,210.5zM651.5,209.4 664.8,208.8 678,208.1 691.3,207.5 704.5,206.8 705.4,223.2 692.1,223.9 678.9,224.6 665.6,225.2 652.3,225.8zM652.3,225.8 665.6,225.2 666.3,241.7 653,242.3zM678.9,224.6 692.1,223.9 705.4,223.2 706.3,239.7 693,240.4 679.7,241zM613,243.9 626.3,243.4 639.6,242.8 640.3,259.3 626.9,259.8 613.6,260.3zM667.1,258.1 680.5,257.5 693.8,256.8 707.2,256.1 708.1,272.6 694.7,273.3 681.3,274 667.8,274.6zM667.8,274.6 681.3,274 694.7,273.3 708.1,272.6 709,289 695.5,289.7 682.1,290.4 668.6,291zM628.2,292.8 641.7,292.2 642.4,308.7 628.9,309.2zM655.1,291.6 668.6,291 682.1,290.4 695.5,289.7 709,289 709.8,305.5 696.4,306.2 682.9,306.9 669.4,307.5 655.9,308.1zM588.3,310.6 601.8,310.2 615.4,309.7 628.9,309.2 629.5,325.7 615.9,326.2 602.4,326.7 588.9,327.1zM642.4,308.7 655.9,308.1 669.4,307.5 682.9,306.9 696.4,306.2 709.8,305.5 710.7,321.9 697.2,322.6 683.7,323.3 670.1,323.9 656.6,324.6 643,325.1zM344.9,329.2 358.4,329.3 358.3,345.8 344.7,345.6zM561.8,327.9 575.3,327.5 588.9,327.1 602.4,326.7 615.9,326.2 629.5,325.7 643,325.1 643.7,341.6 630.1,342.1 616.5,342.6 603,343.1 589.4,343.6 575.8,344 562.2,344.3zM656.6,324.6 670.1,323.9 683.7,323.3 697.2,322.6 710.7,321.9 711.6,338.4 698,339.1 684.5,339.8 670.9,340.4 657.3,341zM548.6,344.7 562.2,344.3 575.8,344 589.4,343.6 603,343.1 616.5,342.6 630.1,342.1 643.7,341.6 657.3,341 670.9,340.4 684.5,339.8 698,339.1 711.6,338.4 712.5,354.8 698.9,355.5 685.3,356.2 671.6,356.9 658,357.5 644.4,358.1 630.8,358.6 617.1,359.1 603.5,359.6 589.9,360 576.2,360.4 562.6,360.8 549,361.1zM521.7,361.7 535.3,361.4 549,361.1 549.4,377.6 535.7,377.9 522,378.2zM576.2,360.4 589.9,360 590.4,376.5 576.7,376.9zM617.1,359.1 630.8,358.6 644.4,358.1 658,357.5 671.6,356.9 685.3,356.2 698.9,355.5 712.5,354.8 713.4,371.3 699.7,372 686.1,372.7 672.4,373.3 658.7,373.9 645.1,374.5 631.4,375.1 617.7,375.6zM522,378.2 535.7,377.9 549.4,377.6 563,377.3 576.7,376.9 590.4,376.5 604.1,376 617.7,375.6 631.4,375.1 645.1,374.5 658.7,373.9 672.4,373.3 686.1,372.7 699.7,372 713.4,371.3 714.3,387.7 700.6,388.4 686.9,389.1 673.2,389.8 659.5,390.4 645.7,391 632,391.5 618.3,392 604.6,392.5 590.9,393 577.2,393.4 563.5,393.7 549.8,394.1 536,394.4 522.3,394.7zM494.9,395.1 508.6,394.9 522.3,394.7 522.6,411.1 508.9,411.4 495.1,411.6zM536,394.4 549.8,394.1 550.1,410.6 536.4,410.9zM577.2,393.4 590.9,393 604.6,392.5 605.2,409 591.4,409.4 577.7,409.8zM618.3,392 632,391.5 645.7,391 659.5,390.4 660.2,406.9 646.4,407.4 632.7,408 618.9,408.5zM673.2,389.8 686.9,389.1 700.6,388.4 714.3,387.7 715.2,404.2 701.4,404.9 687.7,405.6 673.9,406.2zM605.2,409 618.9,408.5 632.7,408 646.4,407.4 647.1,423.9 633.3,424.5 619.5,425 605.7,425.5zM440.1,428.5 453.9,428.5 454,444.9 440.2,445zM619.5,425 633.3,424.5 647.1,423.9 647.8,440.4 633.9,440.9 620.1,441.4zM426.3,445 440.2,445 440.2,461.5 426.3,461.5zM606.3,441.9 620.1,441.4 620.7,457.9 606.8,458.4zM633.9,440.9 647.8,440.4 661.6,439.8 675.4,439.2 676.2,455.6 662.3,456.3 648.5,456.8 634.6,457.4zM468,461.3 481.9,461.2 482.1,477.7 468.1,477.8zM565.2,459.6 579.1,459.3 579.5,475.7 565.6,476.1zM634.6,457.4 648.5,456.8 649.1,473.3 635.2,473.9zM468.1,477.8 482.1,477.7 482.3,494.2 468.3,494.3zM635.9,490.4 649.8,489.8 650.5,506.3 636.5,506.8zM663.8,489.2 677.7,488.6 691.7,487.9 705.6,487.2 719.6,486.5 720.5,503 706.5,503.7 692.5,504.4 678.5,505.1 664.5,505.7zM650.5,506.3 664.5,505.7 678.5,505.1 679.2,521.5 665.2,522.2 651.2,522.8zM651.2,522.8 665.2,522.2 679.2,521.5 680,538 665.9,538.7 651.8,539.3zM652.5,555.8 666.6,555.2 667.4,571.7 653.2,572.3zM412.3,577 426.5,577 440.6,577 440.7,593.5 426.5,593.5 412.3,593.5zM639,572.8 653.2,572.3 667.4,571.7 681.5,571 695.7,570.3 709.9,569.6 724,568.9 724.9,585.4 710.7,586.1 696.5,586.8 682.3,587.5 668.1,588.2 653.9,588.8 639.7,589.3zM383.8,593.4 398,593.5 412.3,593.5 412.2,610.1 398,610 383.7,609.9zM625.5,589.9 639.7,589.3 653.9,588.8 668.1,588.2 682.3,587.5 683.1,604 668.8,604.7 654.6,605.3 640.3,605.8 626.1,606.4z"/>
<path fill="#00af19" stroke="#00af19" stroke-width="0.6" d="M453.9,428.5 467.7,428.4 467.9,444.8 454,444.9zM440.2,445 454,444.9 454.1,461.4 440.2,461.5zM620.7,457.9 634.6,457.4 635.2,473.9 621.3,474.4z"/>
<path fill="#69cd0a" stroke="#69cd0a" stroke-width="0.6" d="M454,444.9 467.9,444.8 468,461.3 454.1,461.4z"/>
</g>
<g shape-rendering="crispEdges"><path fill="#0000ff" d="M153.2,169.4H239.5V203.1H153.2zM153.2,203.1H172.0V260.0H153.2z"/>
<path fill="#0064fa" d="M167.0,171.9H170.8V177.5H167.0zM157.0,178.1H164.5V184.4H157.0zM164.5,184.4H173.9V191.2H164.5zM173.2,176.2H188.2V198.8H173.2zM183.2,169.4H193.2V176.2H183.2zM188.2,176.2H195.1V183.8H188.2zM202.0,170.0H212.0V183.8H202.0zM199.5,183.8H207.0V201.2H199.5zM207.0,183.8H217.0V190.6H207.0zM219.5,178.8H227.0V185.0H219.5zM229.5,180.0H238.2V185.0H229.5zM227.0,192.5H239.5V201.2H227.0zM239.5,178.8H252.0V203.1H239.5zM173.2,198.8H192.0V203.1H173.2zM172.0,203.1H252.0V241.2H172.0zM164.5,218.8H172.0V241.2H164.5zM158.2,226.2H164.5V242.5H158.2zM164.5,241.2H183.2V250.0H164.5zM168.2,250.0H183.2V260.0H168.2zM224.5,241.2H252.0V260.0H224.5zM183.2,241.2H224.5V246.2H183.2z"/>
<path fill="#0000ff" d="M185.8,203.1H202.0V207.5H185.8zM185.8,207.5H194.5V210.0H185.8zM225.8,197.5H238.2V210.0H225.8zM219.5,210.0H227.0V218.8H219.5zM212.0,218.8H222.0V227.5H212.0zM197.0,227.5H208.2V236.2H197.0zM183.2,246.2H224.5V260.0H183.2zM153.2,241.2H164.5V260.0H153.2zM164.5,250.0H168.2V260.0H164.5zM212.0,170.0H227.0V178.8H212.0zM212.0,185.0H227.0V197.5H212.0zM188.2,185.0H199.5V196.2H188.2zM217.0,190.6H227.0V192.5H217.0z"/>
<path fill="#0064fa" d="M208.2,246.2H212.0V250.0H208.2zM220.8,178.8H223.9V181.9H220.8zM222.0,186.9H227.0V189.4H222.0zM155.0,89.5H157.2V94.0H155.0zM155.0,92.5H173.0V95.5H155.0zM164.0,95.5H181.2V98.5H164.0zM181.2,99.2H188.7V102.2H181.2zM192.5,103.7H198.5V106.7H192.5zM205.2,108.2H209.7V111.2H205.2zM215.7,112.0H221.0V115.0H215.7zM221.0,108.7H227.7V111.7H221.0zM227.7,105.2H240.5V108.2H227.7zM240.5,106.7H245.0V108.7H240.5zM245.0,108.7H248.7V111.7H245.0zM251.0,112.0H254.0V114.7H251.0zM212.0,121.0H216.5V124.0H212.0zM214.2,118.0H217.2V121.0H214.2zM206.0,124.0H211.7V127.7H206.0zM217.2,124.0H218.7V139.0H217.2zM208.2,136.7H212.0V140.2H208.2zM239.7,76.0H245.0V79.7H239.7z"/>
<path fill="#00ebd2" d="M642.5,491.2H648.8V502.5H642.5z"/>
<path fill="#00cd73" d="M647.9,502.5H662.6V507.8H647.9z"/>
<path fill="#0000ff" d="M267.0,118.0H273.0V127.0H267.0zM273.0,121.0H277.5V125.5H273.0zM277.5,121.8H280.5V130.8H277.5z"/>
<path fill="#0064fa" d="M276.8,444.2H285.8V452.5H276.8zM274.5,457.8H285.8V461.5H274.5zM272.2,444.2H273.8V448.8H272.2z"/></g><g shape-rendering="crispEdges"><path fill="#5a0096" d="M435.0,80.0H438.8V83.8H435.0zM505.0,88.8H508.0V93.0H505.0zM510.0,88.8H513.8V93.8H510.0zM506.0,73.8H510.0V75.5H506.0zM397.5,122.5H403.8V128.0H397.5zM505.0,155.5H508.0V158.0H505.0zM379.5,190.0H383.8V193.8H379.5zM441.0,211.0H443.8V215.0H441.0zM358.8,231.0H360.5V233.8H358.8zM650.0,88.8H657.5V91.0H650.0zM536.0,239.0H539.5V249.0H536.0zM549.0,260.0H555.0V265.0H549.0zM335.0,319.5H340.0V323.0H335.0zM345.0,394.0H348.0V396.0H345.0zM300.0,432.5H303.0V435.0H300.0zM428.8,290.2H433.8V293.0H428.8zM371.8,316.0H373.0V320.0H371.8zM383.8,352.5H388.8V356.0H383.8zM493.8,338.8H496.2V342.5H493.8zM465.8,359.5H467.5V362.5H465.8zM368.8,388.8H372.5V393.0H368.8zM395.0,423.8H400.0V426.5H395.0zM531.0,322.5H539.0V329.0H531.0zM645.0,280.0H650.0V284.0H645.0zM621.0,294.5H626.0V297.0H621.0zM656.0,336.0H661.0V340.0H656.0zM621.0,355.0H626.0V359.0H621.0zM650.0,349.0H654.0V352.5H650.0zM570.0,352.5H574.0V361.0H570.0zM530.0,366.0H534.0V369.0H530.0zM521.0,380.0H526.0V384.0H521.0zM607.5,382.5H612.5V389.0H607.5zM681.0,306.0H684.0V309.0H681.0zM243.8,503.0H248.0V507.0H243.8zM246.0,506.0H251.2V510.5H246.0zM245.0,541.8H251.0V545.0H245.0zM331.0,448.0H337.5V455.0H331.0zM332.0,511.8H334.5V515.0H332.0zM363.8,440.5H367.5V444.0H363.8zM418.0,444.0H420.0V448.0H418.0zM437.5,436.8H442.5V440.5H437.5zM443.8,425.5H447.0V430.0H443.8zM446.0,428.0H450.0V433.0H446.0zM471.0,427.0H474.0V436.0H471.0zM475.0,430.0H477.5V449.0H475.0zM442.5,461.8H445.0V464.0H442.5zM433.8,508.0H436.0V511.0H433.8zM360.0,501.8H363.8V505.5H360.0zM431.0,530.5H435.0V535.5H431.0zM411.0,568.0H415.5V570.0H411.0zM365.0,579.0H370.0V585.5H365.0zM425.0,588.0H428.0V591.8H425.0zM545.0,485.5H550.0V489.0H545.0zM581.0,483.0H583.0V487.0H581.0zM617.5,464.0H621.0V468.0H617.5zM645.0,472.0H649.0V478.0H645.0zM602.5,574.0H607.5V579.0H602.5zM579.0,538.0H582.5V540.0H579.0zM667.5,447.0H672.5V448.5H667.5zM674.0,503.0H676.0V505.5H674.0zM650.0,550.5H652.0V554.0H650.0zM530.0,483.0H533.0V492.0H530.0zM532.0,489.0H536.0V498.0H532.0zM539.0,572.0H545.0V578.0H539.0zM543.0,576.0H549.0V583.0H543.0zM550.0,579.0H556.0V588.0H550.0zM553.0,585.0H560.0V593.0H553.0zM494.3,446.2H507.0V448.5H494.3zM498.5,441.0H502.0V446.2H498.5zM632.5,324.0H651.0V329.0H632.5zM640.0,328.0H646.0V331.5H640.0zM619.5,199.5H622.0V201.0H619.5zM659.0,202.5H667.5V203.8H659.0zM670.5,202.5H672.0V208.5H670.5zM675.0,202.5H676.8V208.5H675.0zM672.0,204.8H675.0V206.2H672.0zM679.2,208.2H681.8V209.7H679.2zM546.0,274.0H556.0V280.0H546.0zM552.0,277.0H562.5V284.0H552.0zM515.0,279.0H521.0V288.0H515.0zM518.0,286.0H526.0V296.0H518.0zM515.0,294.0H520.0V302.0H515.0zM603.5,211.0H610.5V214.5H603.5zM601.5,213.5H604.5V217.5H601.5zM602.0,219.8H603.8V225.8H602.0zM590.0,414.0H596.0V420.5H590.0zM596.0,414.0H601.0V417.0H596.0zM464.4,379.4H467.5V384.2H464.4zM446.5,375.0H450.0V377.2H446.5zM451.5,380.0H453.5V382.2H451.5zM457.0,382.5H460.0V384.7H457.0zM467.0,369.5H469.0V374.0H467.0z"/>
<path fill="#5a0096" d="M615.0,505.0 619.5,505.8 625.5,512.5 627.0,524.5 631.5,529.0 636.0,535.0 639.8,550.0 639.8,555.2 636.0,556.0 630.0,550.0 627.0,539.5 624.0,526.0 621.8,515.5 615.0,508.0z"/>
<path fill="#5a0096" d="M586.5,540.2 589.5,541.8 594.8,547.8 601.5,553.0 607.5,556.0 610.5,553.0 612.8,556.0 615.0,554.5 616.5,556.0 614.2,562.0 610.5,562.8 602.2,560.5 598.5,554.5 592.5,549.2 587.2,543.2z"/>
<path stroke="#5a0096" stroke-width="2.0" fill="none" d="M448.8,186.0L456.2,192.5"/>
<path stroke="#5a0096" stroke-width="2.2" fill="none" d="M475.0,220.0L485.0,226.0"/>
<path stroke="#5a0096" stroke-width="2.2" fill="none" d="M483.0,224.0L483.0,230.0"/>
<path stroke="#5a0096" stroke-width="2.0" fill="none" d="M620.0,80.0L630.0,87.5"/>
<path stroke="#5a0096" stroke-width="2.0" fill="none" d="M617.5,101.0L621.0,97.5"/>
<path stroke="#5a0096" stroke-width="2.0" fill="none" d="M611.0,140.0L613.0,129.0"/>
<path stroke="#5a0096" stroke-width="2.0" fill="none" d="M613.0,129.0L616.0,136.0"/>
<path stroke="#5a0096" stroke-width="2.5" fill="none" d="M515.0,212.5L522.5,197.5"/>
<path stroke="#5a0096" stroke-width="2.0" fill="none" d="M549.0,207.0L557.0,198.0"/>
<path stroke="#5a0096" stroke-width="2.0" fill="none" d="M557.0,198.0L565.0,190.0"/>
<path stroke="#5a0096" stroke-width="1.8" fill="none" d="M629.2,276.2L633.0,275.0"/>
<path stroke="#5a0096" stroke-width="1.8" fill="none" d="M633.0,275.0L636.5,275.3"/>
<path stroke="#5a0096" stroke-width="1.8" fill="none" d="M636.5,275.3L638.7,277.5"/>
<path stroke="#5a0096" stroke-width="1.8" fill="none" d="M638.7,277.5L639.0,280.8"/>
<path stroke="#5a0096" stroke-width="2.0" fill="none" d="M626.0,190.5L629.5,192.3"/>
<path stroke="#5a0096" stroke-width="2.0" fill="none" d="M629.5,192.3L630.5,195.3"/>
<path stroke="#5a0096" stroke-width="2.4" fill="none" d="M630.5,195.3L637.5,196.0"/>
<path stroke="#5a0096" stroke-width="2.0" fill="none" d="M637.5,196.0L641.5,199.5"/>
<path stroke="#5a0096" stroke-width="2.5" fill="none" d="M320.0,389.0L327.5,387.0"/>
<path stroke="#5a0096" stroke-width="2.5" fill="none" d="M441.0,432.0L450.0,427.0"/>
<path stroke="#5a0096" stroke-width="2.5" fill="none" d="M572.5,444.0L585.0,453.0"/>
<path stroke="#5a0096" stroke-width="2.5" fill="none" d="M602.5,451.0L615.0,456.5"/>
<path stroke="#5a0096" stroke-width="2.5" fill="none" d="M490.0,477.0L495.0,490.0"/>
<path stroke="#5a0096" stroke-width="2.5" fill="none" d="M490.5,478.0L500.0,490.0"/>
<path stroke="#5a0096" stroke-width="2.6" fill="none" d="M416.0,499.0L427.5,512.0"/>
<path stroke="#5a0096" stroke-width="2.6" fill="none" d="M478.8,538.0L487.5,548.0"/>
<path stroke="#5a0096" stroke-width="1.8" fill="none" d="M549.0,434.3L553.5,433.0"/>
<path stroke="#5a0096" stroke-width="1.8" fill="none" d="M553.5,433.0L557.2,428.6"/>
<path stroke="#5a0096" stroke-width="2.2" fill="none" d="M590.0,419.0L601.0,415.0"/>
<path stroke="#c80032" stroke-width="0.9" stroke-dasharray="1.5 1" fill="none" d="M191.5,264.5L200.0,256.5"/></g><path fill="none" stroke="#000" stroke-width="1.1" stroke-linejoin="round" d="M184.9,62.2 182.5,114.9 180.0,167.6M140.6,165.7 176.5,167.5 212.3,169.0 248.2,170.3 284.1,171.4 320.0,172.2 355.9,172.8 391.8,173.1 427.7,173.2 463.6,173.0 499.5,172.6 535.4,172.0 571.3,171.0M138.8,198.6 163.5,199.9 188.2,201.0 212.9,202.0 237.6,203.0 262.3,203.8 287.1,204.4M287.1,204.4 285.4,267.8 283.8,331.2M568.0,59.0 570.1,131.5 572.2,204.0M572.2,204.0 593.5,203.3 614.9,202.6 636.2,201.8 657.5,200.9 678.8,199.9 700.1,198.8M572.2,204.0 584.2,274.7 584.6,392.0M608.3,396.0 610.5,432.2 611.9,499.0M610.5,432.2 631.8,431.4 653.1,430.6 674.4,429.6 695.7,428.6M284.0,331.0 289.0,331.6 292.0,335.0 295.0,340.0 300.0,343.6 303.0,345.0 307.0,342.4 311.0,344.0 315.0,345.0 318.0,340.0 321.0,341.0 325.0,345.0 327.0,350.0 329.0,354.0 334.0,356.4 338.0,356.0 342.0,358.4 347.0,361.0 353.0,361.6 358.0,361.0 361.0,360.0 365.0,365.0 369.0,365.0 372.0,361.0 376.0,361.4 382.0,362.0 387.0,361.0 388.0,367.0 391.0,370.0 394.0,373.0 395.0,377.0 398.0,379.6 402.0,379.0 406.0,375.0 409.0,372.4 414.0,373.0 416.0,376.0 420.0,377.0 423.0,380.0 426.0,381.5 430.0,379.0 434.0,376.6 437.0,379.0 437.0,385.0 440.0,389.0 443.0,385.0 445.0,380.0 448.0,375.0 452.0,378.0 458.0,381.5 464.0,381.0 469.0,380.0 473.0,383.0 477.0,385.0 481.0,386.0 484.0,390.0 486.0,387.0 490.0,387.0 493.0,383.0 496.0,381.0 501.0,380.0 505.0,378.0 508.0,379.0 512.0,379.0 517.0,377.0 522.0,375.0 524.0,374.4 527.0,376.6 531.0,377.0 535.0,377.6 539.0,377.0 543.0,372.0 546.0,372.4 549.0,375.0 554.0,377.0 558.0,380.0 561.0,383.0 565.0,385.6 570.0,387.0 575.0,389.5 580.0,391.6 584.6,391.5 588.6,396.0 595.0,397.0 599.4,395.0 604.0,395.6 608.3,396.0M611.9,499.0 615.5,500.8 619.0,504.3 622.6,508.8 625.3,512.4 626.2,518.6 627.1,524.0 629.8,528.5 633.3,533.0 635.1,538.3 637.8,543.7 639.6,548.1 640.5,552.6 643.2,552.6 643.2,558.0 644.1,562.4 641.4,565.1 643.2,570.5 641.4,575.8 640.5,579.4 638.7,583.9 636.0,588.3 634.2,591.9 635.1,597.3 634.2,604.0"/>
<path fill="none" stroke="#000" stroke-width="2.4" stroke-linejoin="round" stroke-linecap="round" d="M447.5,374.0 451.0,377.0 453.0,380.5 457.0,382.0 460.0,383.0 463.0,381.0 466.0,378.5 470.0,376.5 471.5,380.5M465.5,367.0 468.0,371.0 469.5,376.0M468.0,371.0 470.5,365.3 473.0,366.5 471.5,371.0 472.0,376.0 470.5,381.0"/><path fill="none" stroke="#0a0a0a" stroke-width="0.7" stroke-linecap="round" stroke-linejoin="round" d="M167.2,77.5L160.2,72.5M161.6,75.3L160.2,72.5L163.3,72.9M188.9,78.0L184.9,72.0M185.2,74.6L184.9,72.0L187.2,73.2M212.6,77.5L207.6,72.5M208.3,75.0L207.6,72.5L210.0,73.3M234.7,77.5L231.7,72.5M231.8,75.1L231.7,72.5L233.9,73.8M256.6,77.5L256.1,72.5M255.1,74.9L256.1,72.5L257.5,74.7M279.5,77.5L279.5,72.5M278.3,74.8L279.5,72.5L280.7,74.8M303.1,77.8L302.1,72.2M301.4,74.7L302.1,72.2L303.8,74.3M326.3,77.5L325.3,72.5M324.6,75.0L325.3,72.5L326.9,74.5M349.9,77.5L347.9,72.5M347.7,75.1L347.9,72.5L349.9,74.2M372.9,76.5L371.4,73.5M371.3,76.1L371.4,73.5L373.5,75.0M395.2,76.2L395.2,73.8M394.0,76.0L395.2,73.8L396.5,76.0M417.1,74.8L419.6,75.2M417.6,73.6L419.6,75.2L417.2,76.0M441.3,73.7L441.8,76.3M442.6,73.8L441.8,76.3L440.2,74.2M464.3,73.0L465.1,77.0M465.8,74.5L465.1,77.0L463.5,75.0M487.2,72.4L488.5,77.6M489.1,75.1L488.5,77.6L486.8,75.7M510.6,72.5L511.4,77.5M512.3,75.1L511.4,77.5L509.8,75.5M533.8,72.6L534.5,77.4M535.4,75.0L534.5,77.4L533.0,75.3M556.8,72.8L557.8,77.2M558.5,74.7L557.8,77.2L556.1,75.3M580.2,73.2L580.7,76.8M581.6,74.3L580.7,76.8L579.2,74.7M603.3,73.5L603.8,76.5M604.7,74.0L603.8,76.5L602.3,74.4M626.8,72.8L626.8,77.2M628.0,75.0L626.8,77.2L625.5,75.0M649.9,72.5L649.9,77.5M651.1,75.2L649.9,77.5L648.7,75.2M670.4,72.4L675.7,77.6M674.9,75.1L675.7,77.6L673.1,76.9M179.3,94.5L171.3,94.5M173.8,95.9L171.3,94.5L173.8,93.2M202.5,96.5L194.5,92.5M196.3,95.2L194.5,92.5L197.7,92.5M224.6,97.5L218.6,91.5M219.5,94.5L218.6,91.5L221.5,92.4M247.2,97.5L242.2,91.5M242.8,94.3L242.2,91.5L244.9,92.6M267.9,95.8L267.9,93.3M266.7,95.6L267.9,93.3L269.1,95.6M291.6,97.5L290.6,91.5M289.7,94.0L290.6,91.5L292.1,93.6M315.4,97.5L312.9,91.5M312.7,94.1L312.9,91.5L315.0,93.2M338.6,97.5L336.1,91.5M335.9,94.1L336.1,91.5L338.1,93.2M361.5,97.5L359.5,91.5M359.1,94.1L359.5,91.5L361.4,93.3M382.9,93.8L384.4,95.3M383.6,92.8L384.4,95.3L381.9,94.5M407.8,95.5L405.8,93.5M406.6,96.0L405.8,93.5L408.3,94.3M429.9,93.6L430.0,95.5M431.0,93.1L430.0,95.5L428.6,93.3M452.8,92.9L453.4,96.2M454.2,93.7L453.4,96.2L451.8,94.2M475.7,92.2L476.8,96.9M477.5,94.4L476.8,96.9L475.1,94.9M498.9,92.0L499.9,97.1M500.7,94.6L499.9,97.1L498.3,95.1M522.2,92.0L522.9,97.1M523.8,94.6L522.9,97.1L521.4,94.9M545.3,92.2L546.1,96.9M546.9,94.4L546.1,96.9L544.5,94.8M568.3,92.4L569.4,96.7M570.0,94.2L569.4,96.7L567.6,94.8M591.8,92.8L592.2,96.3M593.1,93.9L592.2,96.3L590.7,94.2M614.1,92.8L616.1,96.3M616.1,93.7L616.1,96.3L614.0,94.9M637.0,92.0L639.5,97.0M639.6,94.5L639.5,97.0L637.4,95.5M658.8,91.9L664.1,97.2M663.3,94.6L664.1,97.2L661.5,96.4M682.0,91.9L687.2,97.2M686.5,94.6L687.2,97.2L684.7,96.4M166.2,117.6L161.2,110.6M161.7,113.7L161.2,110.6L164.0,112.0M190.9,115.6L182.9,112.6M184.9,114.9L182.9,112.6L185.9,112.2M212.6,117.6L207.6,110.6M208.0,113.7L207.6,110.6L210.3,112.0M236.7,116.6L229.7,111.6M231.1,114.4L229.7,111.6L232.8,112.0M259.4,116.6L253.4,111.6M254.4,114.2L253.4,111.6L256.1,112.2M279.2,117.1L279.8,111.1M278.3,113.3L279.8,111.1L280.8,113.5M304.1,117.3L301.1,110.8M301.0,113.4L301.1,110.8L303.2,112.4M326.5,116.1L325.0,112.1M324.7,114.7L325.0,112.1L327.0,113.8M350.2,115.8L347.7,112.3M348.0,114.9L347.7,112.3L350.0,113.5M372.1,112.8L372.1,115.3M373.3,113.1L372.1,115.3L370.9,113.1M396.0,113.1L394.5,115.1M396.9,114.0L394.5,115.1L394.9,112.5M418.1,112.6L418.6,115.6M419.5,113.1L418.6,115.6L417.1,113.5M441.4,112.4L441.7,115.8M442.7,113.4L441.7,115.8L440.3,113.7M464.3,111.8L465.1,116.4M465.9,113.9L465.1,116.4L463.5,114.3M487.3,111.3L488.4,116.9M489.2,114.4L488.4,116.9L486.8,114.9M510.6,111.4L511.4,116.8M512.3,114.3L511.4,116.8L509.9,114.7M533.7,111.6L534.6,116.6M535.4,114.2L534.6,116.6L533.0,114.6M556.6,111.8L558.0,116.4M558.5,113.9L558.0,116.4L556.2,114.6M580.2,112.8L580.7,115.3M581.4,112.9L580.7,115.3L579.1,113.3M602.1,112.1L605.1,116.1M604.7,113.5L605.1,116.1L602.7,115.0M624.2,111.6L629.2,116.6M628.5,114.1L629.2,116.6L626.8,115.8M647.9,112.8L651.9,115.3M650.6,113.1L651.9,115.3L649.3,115.2M670.0,112.1L676.0,116.1M674.8,113.8L676.0,116.1L673.5,115.8M177.8,136.7L172.8,130.7M173.4,133.4L172.8,130.7L175.4,131.7M202.0,136.7L195.0,130.7M196.2,133.7L195.0,130.7L198.2,131.4M225.6,135.7L217.6,131.7M219.5,134.3L217.6,131.7L220.8,131.6M247.8,135.9L241.8,131.4M242.9,133.8L241.8,131.4L244.4,131.8M269.9,136.4L265.9,130.9M266.3,133.5L265.9,130.9L268.2,132.0M292.6,137.4L289.6,129.9M289.2,132.8L289.6,129.9L291.8,131.8M315.4,136.4L312.9,130.9M312.8,133.5L312.9,130.9L315.0,132.5M338.9,135.9L335.9,131.4M336.1,134.0L335.9,131.4L338.1,132.6M362.5,134.4L358.5,132.9M360.2,134.8L358.5,132.9L361.1,132.6M382.6,134.2L384.6,133.2M382.1,133.1L384.6,133.2L383.1,135.3M406.8,130.9L406.8,136.4M408.0,134.1L406.8,136.4L405.6,134.1M429.9,131.5L430.0,135.8M431.2,133.5L430.0,135.8L428.7,133.6M452.8,131.1L453.4,136.2M454.3,133.8L453.4,136.2L451.9,134.0M475.8,130.7L476.7,136.6M477.6,134.1L476.7,136.6L475.1,134.5M499.0,130.6L499.8,136.7M500.7,134.2L499.8,136.7L498.3,134.6M522.2,130.8L522.9,136.5M523.8,134.1L522.9,136.5L521.4,134.4M545.0,131.0L546.4,136.3M547.0,133.7L546.4,136.3L544.6,134.4M567.8,131.3L569.9,136.0M570.1,133.4L569.9,136.0L567.9,134.4M590.5,131.4L593.5,135.9M593.2,133.3L593.5,135.9L591.2,134.7M613.6,131.9L616.6,135.4M616.1,132.9L616.6,135.4L614.2,134.5M635.3,132.9L641.3,134.4M639.4,132.7L641.3,134.4L638.8,135.0M657.0,133.7L666.0,133.7M663.1,132.1L666.0,133.7L663.1,135.2M680.7,131.8L688.5,135.5M686.6,133.0L688.5,135.5L685.4,135.6M166.8,155.7L160.8,150.7M161.8,153.3L160.8,150.7L163.5,151.3M190.9,155.7L182.9,150.7M184.6,153.6L182.9,150.7L186.3,150.9M214.1,156.2L206.1,150.2M207.6,153.5L206.1,150.2L209.6,150.8M237.2,155.2L229.2,151.2M231.1,153.8L229.2,151.2L232.4,151.1M260.4,155.4L252.4,150.9M254.1,153.7L252.4,150.9L255.7,151.0M282.0,155.7L277.0,150.7M277.8,153.2L277.0,150.7L279.5,151.5M304.6,155.9L300.6,150.4M301.0,153.0L300.6,150.4L303.0,151.6M327.8,153.7L323.8,152.7M325.7,154.4L323.8,152.7L326.3,152.1M350.9,153.2L346.9,153.2M349.2,154.4L346.9,153.2L349.2,152.0M373.9,149.9L370.4,156.4M372.6,155.0L370.4,156.4L370.4,153.8M395.2,149.7L395.2,156.7M396.5,154.4L395.2,156.7L394.0,154.4M418.4,149.7L418.4,156.7M419.6,154.4L418.4,156.7L417.2,154.4M441.4,150.1L441.7,156.3M442.8,153.9L441.7,156.3L440.4,154.0M464.4,150.0L465.0,156.4M466.0,154.0L465.0,156.4L463.6,154.2M487.4,149.8L488.3,156.6M489.2,154.2L488.3,156.6L486.8,154.4M510.6,150.0L511.4,156.4M512.3,154.0L511.4,156.4L509.9,154.2M533.5,150.3L534.8,156.1M535.5,153.7L534.8,156.1L533.1,154.1M556.2,150.6L558.4,155.8M558.7,153.3L558.4,155.8L556.4,154.2M580.2,151.4L580.7,154.9M581.6,152.5L580.7,154.9L579.2,152.9M602.1,151.2L605.1,155.2M604.7,152.6L605.1,155.2L602.7,154.1M624.2,151.4L629.2,154.9M628.1,152.6L629.2,154.9L626.7,154.6M646.9,152.7L652.9,153.7M650.8,152.1L652.9,153.7L650.4,154.5M667.0,152.9L679.0,153.4M675.6,151.4L679.0,153.4L675.4,155.2M180.3,175.4L170.3,170.1M172.6,173.4L170.3,170.1L174.3,170.1M203.5,175.3L193.4,170.2M195.7,173.5L193.4,170.2L197.4,170.1M226.1,174.5L217.1,171.0M219.4,173.6L217.1,171.0L220.6,170.6M248.8,174.2L240.8,171.2M242.8,173.6L240.8,171.2L243.8,170.9M271.9,173.5L263.9,172.0M266.2,173.8L263.9,172.0L266.7,171.1M294.1,173.2L288.1,172.2M290.1,173.8L288.1,172.2L290.5,171.4M316.7,173.8L311.7,171.8M313.4,173.7L311.7,171.8L314.3,171.5M339.9,172.0L334.9,173.5M337.4,174.0L334.9,173.5L336.7,171.7M363.0,170.2L358.0,175.2M360.5,174.5L358.0,175.2L358.8,172.8M386.1,169.5L381.1,176.0M383.8,174.8L381.1,176.0L381.6,173.1M407.3,169.2L406.3,176.2M407.8,174.2L406.3,176.2L405.4,173.8M429.9,169.1L430.0,176.4M431.2,174.1L430.0,176.4L428.7,174.1M452.9,169.1L453.3,176.4M454.4,174.0L453.3,176.4L451.9,174.1M475.9,169.1L476.6,176.4M477.6,174.0L476.6,176.4L475.1,174.2M499.0,169.3L499.8,176.2M500.7,173.8L499.8,176.2L498.3,174.1M522.2,169.5L522.9,176.0M523.9,173.6L522.9,176.0L521.5,173.9M544.6,169.8L546.8,175.7M547.1,173.1L546.8,175.7L544.8,173.9M567.1,170.2L570.6,175.3M570.3,172.7L570.6,175.3L568.3,174.1M590.8,170.5L593.2,175.0M593.2,172.4L593.2,175.0L591.1,173.6M612.6,172.2L617.6,173.2M615.6,171.6L617.6,173.2L615.2,174.0M635.8,172.2L640.8,173.2M638.8,171.6L640.8,173.2L638.3,174.0M657.5,172.0L665.5,173.5M663.2,171.7L665.5,173.5L662.7,174.4M679.7,171.8L689.5,173.7M686.7,171.4L689.5,173.7L686.1,174.8M169.0,194.2L158.5,190.4M161.2,193.4L158.5,190.4L162.5,189.8M192.1,194.2L181.7,190.4M184.4,193.4L181.7,190.4L185.6,189.9M215.3,194.0L204.8,190.6M207.6,193.4L204.8,190.6L208.7,189.9M238.4,193.9L228.0,190.7M230.7,193.5L228.0,190.7L231.8,189.9M261.5,193.7L251.2,190.9M254.0,193.5L251.2,190.9L254.9,190.0M284.4,193.1L274.6,191.5M277.4,193.7L274.6,191.5L278.0,190.3M307.2,192.5L298.1,192.1M300.9,193.8L298.1,192.1L301.1,190.7M328.4,190.3L323.2,194.3M325.7,193.9L323.2,194.3L324.3,191.9M353.5,190.7L344.4,193.9M347.8,194.4L344.4,193.9L346.8,191.4M374.7,189.7L369.5,194.9M372.0,194.2L369.5,194.9L370.2,192.4M397.2,189.0L393.3,195.6M395.6,194.2L393.3,195.6L393.4,192.8M418.4,188.7L418.4,195.9M419.6,193.6L418.4,195.9L417.2,193.6M441.2,188.7L441.9,195.9M442.9,193.5L441.9,195.9L440.4,193.7M464.4,188.9L465.0,195.7M466.0,193.3L465.0,195.7L463.6,193.6M487.2,188.9L488.5,195.7M489.3,193.2L488.5,195.7L486.9,193.7M510.4,189.0L511.6,195.6M512.4,193.1L511.6,195.6L510.0,193.5M533.1,189.3L535.2,195.3M535.6,192.7L535.2,195.3L533.3,193.5M555.6,189.7L559.0,194.9M558.7,192.3L559.0,194.9L556.7,193.6M578.1,190.1L582.8,194.5M581.9,192.0L582.8,194.5L580.3,193.8M600.6,190.5L606.6,194.1M605.3,191.9L606.6,194.1L604.0,194.0M623.1,190.8L630.4,193.8M628.6,191.6L630.4,193.8L627.6,194.1M645.7,191.1L654.1,193.5M651.8,191.3L654.1,193.5L651.0,194.2M668.6,191.2L677.5,193.4M675.0,191.2L677.5,193.4L674.3,194.2M180.3,210.6L170.3,213.1M173.9,214.0L170.3,213.1L173.1,210.6M203.0,211.1L194.0,212.6M197.1,213.6L194.0,212.6L196.6,210.6M224.6,212.8L218.6,210.8M220.4,212.7L218.6,210.8L221.2,210.4M248.8,212.8L240.8,210.8M243.0,212.8L240.8,210.8L243.6,210.1M271.4,210.8L264.4,212.8M267.0,213.4L264.4,212.8L266.3,211.0M295.1,211.8L287.1,211.8M289.6,213.2L287.1,211.8L289.6,210.5M318.6,210.4L309.8,213.3M313.1,213.9L309.8,213.3L312.1,210.9M342.0,211.5L332.7,212.2M335.8,213.5L332.7,212.2L335.6,210.4M364.5,210.5L356.5,213.2M359.5,213.7L356.5,213.2L358.6,211.0M386.3,208.5L381.0,215.2M383.8,213.9L381.0,215.2L381.6,212.2M407.8,209.9L405.8,213.8M407.9,212.3L405.8,213.8L405.7,211.2M430.6,209.9L429.3,213.8M431.2,212.0L429.3,213.8L428.9,211.3M452.9,208.6L453.3,215.1M454.4,212.8L453.3,215.1L451.9,212.9M475.6,208.6L476.9,215.1M477.6,212.6L476.9,215.1L475.3,213.1M498.5,208.7L500.3,215.0M500.8,212.5L500.3,215.0L498.5,213.1M521.6,208.8L523.5,214.9M524.0,212.4L523.5,214.9L521.7,213.1M544.1,209.2L547.3,214.5M547.1,211.9L547.3,214.5L545.1,213.2M566.5,209.7L571.2,214.0M570.3,211.5L571.2,214.0L568.6,213.3M589.1,210.2L594.9,213.5M593.6,211.3L594.9,213.5L592.4,213.5M612.0,210.3L618.3,213.4M616.8,211.3L618.3,213.4L615.7,213.5M634.9,210.5L641.7,213.2M640.0,211.2L641.7,213.2L639.1,213.5M657.8,210.7L665.1,213.0M663.2,211.1L665.1,213.0L662.4,213.5M681.0,210.7L688.2,213.0M686.3,211.1L688.2,213.0L685.5,213.5M158.8,231.4L168.8,231.4M165.6,229.7L168.8,231.4L165.6,233.1M192.4,231.4L181.4,231.4M184.9,233.3L181.4,231.4L184.9,229.5M215.1,231.2L205.1,231.7M208.3,233.2L205.1,231.7L208.1,229.8M237.7,231.4L228.7,231.4M231.6,232.9L228.7,231.4L231.6,229.9M260.4,230.9L252.4,231.9M255.1,232.9L252.4,231.9L254.7,230.2M282.5,230.4L276.5,232.4M279.1,232.8L276.5,232.4L278.3,230.5M307.2,229.3L298.1,233.5M301.7,233.7L298.1,233.5L300.3,230.6M329.7,228.8L321.9,234.0M325.3,233.7L321.9,234.0L323.5,231.0M353.6,230.7L344.3,232.1M347.5,233.2L344.3,232.1L347.1,230.1M374.7,228.8L369.5,234.0M372.0,233.3L369.5,234.0L370.2,231.5M397.2,227.4L393.3,235.4M395.9,233.5L393.3,235.4L393.2,232.2M418.7,227.4L418.1,235.4M419.6,233.0L418.1,235.4L416.9,232.7M441.5,227.4L441.5,235.4M442.9,232.8L441.5,235.4L440.2,232.8M464.2,228.3L465.2,234.5M466.0,232.0L465.2,234.5L463.6,232.4M486.7,228.4L489.0,234.4M489.3,231.8L489.0,234.4L487.0,232.7M509.8,228.4L512.2,234.4M512.5,231.8L512.2,234.4L510.2,232.7M532.6,228.7L535.7,234.1M535.6,231.5L535.7,234.1L533.5,232.7M555.0,229.2L559.6,233.6M558.8,231.1L559.6,233.6L557.1,232.9M577.5,229.8L583.4,233.0M582.0,230.8L583.4,233.0L580.8,233.0M600.5,230.0L606.7,232.8M605.1,230.7L606.7,232.8L604.2,233.0M623.7,230.1L629.8,232.7M628.2,230.7L629.8,232.7L627.2,232.9M647.0,230.1L652.8,232.7M651.2,230.6L652.8,232.7L650.2,232.9M670.2,230.1L675.9,232.7M674.3,230.6L675.9,232.7L673.3,232.9M174.1,255.0L176.6,247.0M174.4,249.1L176.6,247.0L177.1,249.9M203.5,249.5L193.5,252.5M197.1,253.2L193.5,252.5L196.1,249.8M225.6,251.5L217.6,250.5M220.0,252.1L217.6,250.5L220.3,249.4M248.8,252.5L240.8,249.5M242.8,251.8L240.8,249.5L243.8,249.1M272.9,251.1L262.9,250.8M266.0,252.6L262.9,250.8L266.1,249.2M295.9,249.9L286.2,252.0M289.6,253.0L286.2,252.0L288.9,249.7M318.8,248.8L309.6,253.1M313.2,253.3L309.6,253.1L311.8,250.2M341.6,247.9L333.1,254.0M336.8,253.5L333.1,254.0L334.8,250.6M363.1,248.3L357.9,253.6M360.4,252.8L357.9,253.6L358.6,251.0M385.6,248.3L381.7,253.6M384.0,252.5L381.7,253.6L382.1,251.0M406.8,247.7L406.8,254.3M408.0,252.0L406.8,254.3L405.6,252.0M429.6,247.7L430.3,254.3M431.3,251.8L430.3,254.3L428.8,252.1M452.8,247.9L453.4,254.0M454.4,251.7L453.4,254.0L451.9,251.9M475.3,247.9L477.2,254.0M477.7,251.4L477.2,254.0L475.3,252.1M498.1,247.7L500.7,254.3M501.0,251.7L500.7,254.3L498.7,252.6M521.6,247.7L523.5,254.3M524.0,251.7L523.5,254.3L521.7,252.4M544.1,248.0L547.4,253.9M547.3,251.3L547.4,253.9L545.2,252.5M566.9,248.0L570.8,253.9M570.6,251.3L570.8,253.9L568.5,252.7M590.4,248.6L593.6,253.3M593.3,250.7L593.6,253.3L591.3,252.1M615.1,247.7L615.1,254.3M616.4,252.0L615.1,254.3L613.9,252.0M635.7,250.6L640.9,251.3M638.8,249.8L640.9,251.3L638.5,252.2M658.8,252.9L664.1,249.0M661.5,249.4L664.1,249.0L663.0,251.3M682.0,250.4L687.2,251.5M685.2,249.8L687.2,251.5L684.7,252.2M161.2,274.0L166.2,267.0M163.5,268.4L166.2,267.0L165.8,270.1M186.9,275.0L186.9,266.0M185.4,268.9L186.9,266.0L188.4,268.9M213.8,274.2L206.3,266.8M207.4,270.4L206.3,266.8L210.0,267.9M236.7,273.5L229.7,267.5M230.9,270.6L229.7,267.5L232.9,268.2M260.4,271.2L252.4,269.8M254.6,271.6L252.4,269.8L255.1,268.9M284.3,271.4L274.7,269.6M277.5,271.8L274.7,269.6L278.1,268.6M307.6,270.2L297.7,270.8M301.0,272.3L297.7,270.8L300.8,268.9M330.5,269.1L321.1,271.9M324.6,272.6L321.1,271.9L323.6,269.4M353.0,268.1L344.9,272.9M348.3,272.8L344.9,272.9L346.7,270.0M375.1,267.7L369.1,273.3M371.9,272.5L369.1,273.3L370.0,270.5M397.2,267.5L393.3,273.5M395.6,272.3L393.3,273.5L393.5,270.9M419.3,267.2L417.5,273.8M419.3,271.9L417.5,273.8L416.9,271.2M441.7,267.3L441.4,273.7M442.7,271.4L441.4,273.7L440.3,271.4M464.1,267.4L465.3,273.6M466.1,271.1L465.3,273.6L463.7,271.6M486.5,267.5L489.2,273.5M489.4,270.9L489.2,273.5L487.1,271.9M509.0,266.9L513.0,274.1M512.9,271.2L513.0,274.1L510.5,272.5M532.5,266.9L535.8,274.1M536.0,271.3L535.8,274.1L533.5,272.4M555.3,267.2L559.3,273.8M559.1,271.0L559.3,273.8L556.9,272.4M577.8,267.9L583.1,273.1M582.3,270.6L583.1,273.1L580.5,272.4M602.3,270.5L604.9,270.5M602.6,269.3L604.9,270.5L602.6,271.7M622.8,269.8L630.7,271.2M628.4,269.4L630.7,271.2L628.0,272.1M647.9,270.5L651.9,270.5M649.6,269.3L651.9,270.5L649.6,271.7M669.1,271.2L677.0,269.8M674.3,268.9L677.0,269.8L674.7,271.6M172.8,293.6L177.8,286.6M175.0,287.9L177.8,286.6L177.4,289.6M196.7,293.6L200.2,286.6M197.9,288.2L200.2,286.6L200.3,289.4M225.6,293.1L217.6,287.1M219.1,290.3L217.6,287.1L221.2,287.6M247.8,291.1L241.8,289.1M243.5,290.9L241.8,289.1L244.3,288.6M272.8,291.2L263.0,288.9M265.7,291.3L263.0,288.9L266.5,288.0M296.0,290.2L286.1,289.9M289.2,291.7L286.1,289.9L289.3,288.3M319.2,289.2L309.2,290.9M312.7,292.1L309.2,290.9L312.1,288.7M341.7,288.0L333.0,292.1M336.4,292.3L333.0,292.1L335.1,289.3M364.1,287.1L356.9,293.0M360.2,292.3L356.9,293.0L358.2,289.9M386.1,286.8L381.2,293.3M383.8,292.1L381.2,293.3L381.7,290.4M408.2,286.6L405.4,293.5M407.5,291.8L405.4,293.5L405.1,290.9M430.5,286.4L429.4,293.7M431.0,291.6L429.4,293.7L428.5,291.2M453.0,286.3L453.2,293.8M454.4,291.4L453.2,293.8L451.9,291.5M475.6,286.2L476.9,293.9M477.8,291.2L476.9,293.9L475.2,291.7M497.4,286.8L501.4,293.4M501.2,290.6L501.4,293.4L499.0,291.9M520.9,286.8L524.2,293.4M524.3,290.7L524.2,293.4L522.0,291.8M543.4,287.4L548.0,292.7M547.4,290.2L548.0,292.7L545.6,291.8M566.2,288.1L571.5,292.0M570.4,289.7L571.5,292.0L568.9,291.6M588.7,288.4L595.3,291.7M593.8,289.5L595.3,291.7L592.6,291.8M612.5,287.1L617.8,293.0M617.1,290.2L617.8,293.0L615.1,292.0M637.6,288.1L639.0,292.0M639.4,289.5L639.0,292.0L637.1,290.2M659.5,290.7L663.4,289.4M660.9,289.0L663.4,289.4L661.6,291.3M682.6,291.4L686.6,288.7M684.0,289.0L686.6,288.7L685.4,291.0M160.8,313.1L166.8,306.1M163.7,307.3L166.8,306.1L166.0,309.3M183.9,312.6L189.9,306.6M187.0,307.5L189.9,306.6L189.0,309.5M209.8,308.4L210.3,310.9M211.0,308.4L210.3,310.9L208.7,308.8M238.7,309.6L227.7,309.6M231.2,311.5L227.7,309.6L231.2,307.7M261.4,308.6L251.4,310.6M254.9,311.7L251.4,310.6L254.2,308.3M284.6,309.9L274.4,309.3M277.5,311.2L274.4,309.3L277.7,307.7M307.7,309.0L297.6,310.2M301.0,311.5L297.6,310.2L300.6,308.1M330.5,308.0L321.1,311.2M324.6,311.8L321.1,311.2L323.6,308.6M352.9,306.8L345.0,312.4M348.4,311.9L345.0,312.4L346.6,309.3M375.1,306.3L369.1,312.9M372.1,311.8L369.1,312.9L369.9,309.8M397.1,305.9L393.4,313.3M395.8,311.6L393.4,313.3L393.3,310.3M419.2,305.6L417.6,313.6M419.5,311.3L417.6,313.6L416.8,310.8M441.8,305.3L441.3,313.9M442.9,311.3L441.3,313.9L440.0,311.1M464.5,305.0L464.9,314.2M466.3,311.2L464.9,314.2L463.2,311.3M487.3,304.8L488.4,314.4M489.7,311.2L488.4,314.4L486.4,311.5M510.0,305.0L512.0,314.2M512.9,310.9L512.0,314.2L509.8,311.6M531.5,307.6L536.8,311.6M535.7,309.2L536.8,311.6L534.2,311.2M554.7,308.6L559.9,310.6M558.2,308.6L559.9,310.6L557.4,310.9M577.8,307.3L583.1,311.9M582.2,309.5L583.1,311.9L580.6,311.3M603.6,306.3L603.6,312.9M604.8,310.6L603.6,312.9L602.4,310.6M628.1,307.6L625.4,311.6M627.7,310.3L625.4,311.6L625.7,309.0M648.6,310.9L651.2,308.3M648.7,309.0L651.2,308.3L650.5,310.8M671.7,313.6L674.4,305.6M672.2,307.7L674.4,305.6L674.9,308.6M171.8,330.6L178.8,327.6M176.1,327.4L178.8,327.6L177.1,329.8M196.0,330.1L201.0,328.1M198.4,327.9L201.0,328.1L199.3,330.1M226.6,328.6L216.6,329.6M219.9,331.0L216.6,329.6L219.6,327.6M250.2,327.6L239.2,330.6M243.2,331.5L239.2,330.6L242.2,327.9M272.9,327.6L262.9,330.6M266.6,331.4L262.9,330.6L265.6,328.0M296.3,328.8L285.8,329.5M289.3,331.0L285.8,329.5L289.0,327.5M319.2,328.1L309.2,330.2M312.8,331.2L309.2,330.2L312.0,327.9M341.7,326.9L333.0,331.4M336.5,331.5L333.0,331.4L335.0,328.5M364.0,325.9L357.0,332.4M360.3,331.5L357.0,332.4L358.1,329.2M386.1,325.4L381.2,332.9M384.0,331.3L381.2,332.9L381.5,329.7M408.1,325.0L405.5,333.3M407.7,331.1L405.5,333.3L404.9,330.2M430.5,324.5L429.4,333.8M431.3,331.0L429.4,333.8L428.2,330.7M453.3,324.2L452.9,334.1M454.7,331.0L452.9,334.1L451.3,330.9M476.2,323.9L476.3,334.4M478.0,331.0L476.3,334.4L474.5,331.1M499.4,324.1L499.4,334.2M501.1,331.0L499.4,334.2L497.7,331.0M522.2,326.8L522.9,331.5M523.8,329.0L522.9,331.5L521.3,329.4M543.7,328.5L547.7,329.8M545.9,327.9L547.7,329.8L545.1,330.2M568.8,327.5L568.8,330.8M570.1,328.5L568.8,330.8L567.6,328.5M588.7,329.1L595.3,329.1M593.0,327.9L595.3,329.1L593.0,330.4M613.8,331.8L616.5,326.5M614.4,328.0L616.5,326.5L616.5,329.1M638.0,333.8L638.6,324.5M636.9,327.4L638.6,324.5L640.0,327.6M660.8,332.4L662.1,325.8M660.5,327.9L662.1,325.8L662.9,328.3M683.9,332.0L685.3,326.3M683.6,328.2L685.3,326.3L685.9,328.8M160.8,348.4L166.8,348.9M164.6,347.5L166.8,348.9L164.4,350.0M186.9,350.2L186.9,347.2M185.7,349.5L186.9,347.2L188.1,349.5M209.6,351.7L210.6,345.7M209.0,347.8L210.6,345.7L211.4,348.2M236.7,350.7L229.7,346.7M231.2,349.2L229.7,346.7L232.6,346.8M261.4,349.7L251.4,347.7M254.2,350.0L251.4,347.7L254.9,346.6M285.0,348.7L274.0,348.7M277.5,350.6L274.0,348.7L277.5,346.8M307.8,348.0L297.5,349.4M301.0,350.7L297.5,349.4L300.6,347.2M330.6,347.1L321.0,350.3M324.6,350.9L321.0,350.3L323.5,347.7M352.9,345.8L345.0,351.6M348.5,351.1L345.0,351.6L346.5,348.4M375.2,345.1L369.0,352.3M372.2,351.0L369.0,352.3L369.8,349.0M397.3,344.5L393.2,352.9M395.9,350.9L393.2,352.9L393.1,349.5M419.3,344.1L417.5,353.3M419.6,350.7L417.5,353.3L416.5,350.1M442.1,343.7L441.0,353.7M443.0,350.7L441.0,353.7L439.7,350.3M465.0,343.4L464.4,354.0M466.4,350.7L464.4,354.0L462.8,350.5M487.9,343.2L487.8,354.2M489.7,350.7L487.8,354.2L486.0,350.7M511.0,343.4L511.0,354.0M512.8,350.6L511.0,354.0L509.2,350.6M533.8,345.4L534.5,352.0M535.5,349.6L534.5,352.0L533.0,349.8M556.0,346.1L558.6,351.3M558.7,348.7L558.6,351.3L556.5,349.8M580.5,350.3L580.5,347.1M579.2,349.3L580.5,347.1L581.7,349.3M603.6,351.0L603.6,346.4M602.4,348.7L603.6,346.4L604.8,348.7M626.1,352.0L627.4,345.4M625.8,347.4L627.4,345.4L628.2,347.9M650.6,352.0L649.2,345.4M648.5,347.9L649.2,345.4L650.9,347.4M672.7,351.7L673.4,345.7M671.9,347.9L673.4,345.7L674.3,348.1M174.1,372.2L176.6,364.2M174.4,366.4L176.6,364.2L177.1,367.2M198.0,372.2L199.0,364.2M197.3,366.6L199.0,364.2L200.0,367.0M224.6,372.2L218.6,364.2M219.2,367.8L218.6,364.2L221.9,365.8M248.8,372.2L240.8,364.2M241.9,368.1L240.8,364.2L244.6,365.4M271.4,370.8L264.4,365.8M265.8,368.5L264.4,365.8L267.5,366.2M296.2,368.3L285.9,368.2M289.2,370.0L285.9,368.2L289.2,366.5M319.3,367.6L309.1,368.9M312.5,370.2L309.1,368.9L312.1,366.7M341.9,366.3L332.8,370.2M336.4,370.5L332.8,370.2L335.0,367.4M364.2,365.1L356.8,371.4M360.2,370.7L356.8,371.4L358.1,368.1M386.4,364.4L380.9,372.1M383.9,370.6L380.9,372.1L381.3,368.7M408.6,363.8L405.0,372.7M407.7,370.5L405.0,372.7L404.7,369.3M431.0,363.4L428.9,373.1M431.2,370.4L428.9,373.1L427.9,369.7M453.7,363.2L452.5,373.3M454.6,370.3L452.5,373.3L451.2,369.9M476.5,363.1L476.0,373.4M477.9,370.2L476.0,373.4L474.4,370.0M497.9,363.0L500.9,373.5M501.7,369.7L500.9,373.5L498.2,370.6M522.5,364.3L522.5,372.2M523.9,369.7L522.5,372.2L521.2,369.7M543.7,368.9L547.7,367.6M545.1,367.2L547.7,367.6L545.9,369.5M566.9,369.9L570.8,366.6M568.3,367.1L570.8,366.6L569.8,369.0M592.0,371.9L592.0,364.6M590.8,366.9L592.0,364.6L593.2,366.9M615.1,372.2L615.1,364.3M613.8,366.8L615.1,364.3L616.5,366.8M637.0,370.9L639.6,365.6M637.5,367.1L639.6,365.6L639.7,368.2M660.1,371.2L662.8,365.3M660.7,366.9L662.8,365.3L663.0,367.9M684.3,371.8L684.9,364.7M683.5,366.8L684.9,364.7L685.9,367.1M162.2,391.8L165.2,383.8M162.9,385.8L165.2,383.8L165.6,386.8M184.9,391.8L188.9,383.8M186.3,385.7L188.9,383.8L189.0,387.0M207.6,391.8L212.6,383.8M209.6,385.5L212.6,383.8L212.3,387.2M236.9,390.6L229.4,385.1M230.9,388.1L229.4,385.1L232.8,385.5M259.9,389.3L252.9,386.3M254.6,388.4L252.9,386.3L255.6,386.1M284.0,388.8L275.0,386.8M277.5,389.0L275.0,386.8L278.2,385.9M307.8,387.8L297.5,387.8M300.7,389.5L297.5,387.8L300.8,386.0M330.8,386.9L320.8,388.7M324.3,389.8L320.8,388.7L323.6,386.4M353.3,385.3L344.6,390.3M348.2,390.2L344.6,390.3L346.5,387.2M375.6,384.4L368.6,391.2M372.0,390.2L368.6,391.2L369.7,387.9M397.8,383.7L392.7,391.9M395.7,390.2L392.7,391.9L392.9,388.4M420.0,383.0L416.8,392.6M419.4,390.1L416.8,392.6L416.2,389.0M442.7,382.9L440.4,392.7M442.8,389.9L440.4,392.7L439.5,389.2M465.4,382.9L464.0,392.7M466.1,389.8L464.0,392.7L462.8,389.4M488.1,382.9L487.6,392.7M489.4,389.7L487.6,392.7L486.1,389.5M511.0,385.2L511.0,390.4M512.2,388.1L511.0,390.4L509.8,388.1M534.1,384.8L534.1,390.8M535.4,388.5L534.1,390.8L532.9,388.5M555.0,389.1L559.6,386.5M557.0,386.6L559.6,386.5L558.2,388.7M580.5,389.8L580.5,385.8M579.2,388.1L580.5,385.8L581.7,388.1M603.6,391.1L603.6,384.5M602.4,386.8L603.6,384.5L604.8,386.8M624.8,390.1L628.7,385.5M626.3,386.4L628.7,385.5L628.2,388.0M648.2,390.4L651.5,385.2M649.3,386.5L651.5,385.2L651.4,387.8M673.0,391.8L673.0,383.8M671.7,386.4L673.0,383.8L674.4,386.4M172.8,411.4L177.8,403.4M174.9,405.0L177.8,403.4L177.6,406.7M194.5,408.6L202.5,406.1M199.5,405.5L202.5,406.1L200.3,408.2M220.4,410.9L222.9,403.9M220.9,405.7L222.9,403.9L223.2,406.5M249.2,408.4L240.2,406.4M242.8,408.5L240.2,406.4L243.4,405.5M273.4,406.9L262.4,407.9M266.1,409.4L262.4,407.9L265.7,405.7M296.1,408.1L286.0,406.6M289.0,408.8L286.0,406.6L289.5,405.4M319.5,407.4L308.9,407.3M312.2,409.1L308.9,407.3L312.3,405.5M342.2,405.9L332.5,408.8M336.1,409.5L332.5,408.8L335.1,406.2M364.6,404.5L356.4,410.2M360.0,409.8L356.4,410.2L358.1,407.0M386.9,403.6L380.4,411.1M383.7,409.8L380.4,411.1L381.2,407.6M409.1,402.9L404.5,411.8M407.5,409.8L404.5,411.8L404.4,408.2M431.6,402.5L428.3,412.2M431.0,409.7L428.3,412.2L427.7,408.6M454.2,402.6L452.0,412.1M454.3,409.5L452.0,412.1L451.1,408.7M476.8,402.7L475.7,412.0M477.6,409.2L475.7,412.0L474.5,408.8M501.4,405.4L497.4,409.3M499.9,408.6L497.4,409.3L498.2,406.8M520.9,407.0L524.2,407.7M522.2,406.0L524.2,407.7L521.7,408.4M545.7,410.0L545.7,404.7M544.5,407.0L545.7,404.7L546.9,407.0M568.8,412.4L568.8,402.3M567.2,405.5L568.8,402.3L570.5,405.5M592.0,410.7L592.0,404.1M590.8,406.3L592.0,404.1L593.2,406.3M615.1,411.0L615.1,403.7M613.9,406.0L615.1,403.7L616.4,406.0M638.0,410.7L638.6,404.1M637.2,406.2L638.6,404.1L639.6,406.5M661.5,412.0L661.5,402.7M659.9,405.7L661.5,402.7L663.0,405.7M684.3,411.3L684.9,403.4M683.4,405.8L684.9,403.4L686.1,406.0M161.2,429.9L166.2,423.9M163.6,425.0L166.2,423.9L165.7,426.7M183.4,429.9L190.4,423.9M187.2,424.6L190.4,423.9L189.2,427.0M208.1,430.4L212.1,423.4M209.6,424.9L212.1,423.4L212.0,426.3M232.9,429.9L233.4,423.9M232.0,426.1L233.4,423.9L234.5,426.3M258.4,430.4L254.4,423.4M254.4,426.3L254.4,423.4L256.8,424.9M284.0,426.7L275.0,427.2M277.9,428.5L275.0,427.2L277.8,425.5M306.8,428.1L298.5,425.7M300.8,427.9L298.5,425.7L301.5,425.1M330.8,426.3L320.8,427.5M324.2,428.8L320.8,427.5L323.8,425.4M353.2,423.9L344.7,429.9M348.4,429.4L344.7,429.9L346.4,426.6M376.2,423.4L368.0,430.4M371.8,429.6L368.0,430.4L369.4,426.8M398.9,423.2L391.6,430.6M395.2,429.5L391.6,430.6L392.7,427.0M421.3,422.3L415.5,431.5M418.9,429.6L415.5,431.5L415.8,427.6M442.5,422.9L440.6,430.9M442.5,428.7L440.6,430.9L439.9,428.0M464.7,424.3L464.7,429.5M465.9,427.2L464.7,429.5L463.5,427.2M491.1,426.2L484.5,427.6M487.0,428.3L484.5,427.6L486.6,425.9M511.0,429.5L511.0,424.3M509.8,426.6L511.0,424.3L512.2,426.6M534.1,431.5L534.1,422.3M532.6,425.2L534.1,422.3L535.7,425.2M556.0,431.7L558.6,422.1M556.2,424.7L558.6,422.1L559.4,425.6M580.5,430.2L580.5,423.6M579.2,425.9L580.5,423.6L581.7,425.9M603.3,430.2L603.9,423.6M602.5,425.8L603.9,423.6L604.9,426.0M626.8,430.2L626.8,423.6M625.5,425.9L626.8,423.6L628.0,425.9M649.9,430.2L649.9,423.6M648.7,425.9L649.9,423.6L651.1,425.9M673.0,430.9L673.0,422.9M671.7,425.5L673.0,422.9L674.4,425.5M173.0,450.9L177.6,442.0M174.6,444.0L177.6,442.0L177.6,445.6M196.7,451.0L200.2,441.9M197.5,444.2L200.2,441.9L200.7,445.4M220.6,451.2L222.6,441.7M220.4,444.4L222.6,441.7L223.6,445.0M244.6,451.3L244.9,441.6M243.2,444.6L244.9,441.6L246.5,444.7M268.9,450.5L266.9,442.4M266.2,445.3L266.9,442.4L268.9,444.7M293.2,449.1L288.9,443.8M289.4,446.4L288.9,443.8L291.3,444.8M317.6,447.7L310.8,445.2M312.5,447.2L310.8,445.2L313.4,444.8M341.3,443.8L333.4,449.1M336.8,448.7L333.4,449.1L335.0,446.1M364.3,443.3L356.7,449.6M360.2,448.9L356.7,449.6L358.0,446.3M386.7,442.2L380.6,450.7M384.0,449.0L380.6,450.7L381.1,447.0M408.3,441.2L405.3,451.7M408.0,448.8L405.3,451.7L404.5,447.9M431.6,443.8L428.3,449.1M430.6,447.8L428.3,449.1L428.5,446.5M454.0,445.6L452.2,447.3M454.7,446.6L452.2,447.3L453.0,444.9M475.6,449.8L476.9,443.1M475.3,445.2L476.9,443.1L477.7,445.6M499.4,451.1L499.4,441.8M497.8,444.8L499.4,441.8L501.0,444.8M521.9,450.4L523.2,442.5M521.4,444.8L523.2,442.5L524.1,445.2M545.3,450.2L546.1,442.7M544.6,444.9L546.1,442.7L547.1,445.2M568.7,450.0L569.0,442.9M567.7,445.1L569.0,442.9L570.1,445.3M592.0,449.8L592.0,443.1M590.8,445.4L592.0,443.1L593.2,445.4M615.1,449.9L615.1,443.0M613.9,445.3L615.1,443.0L616.4,445.3M638.3,450.1L638.3,442.8M637.1,445.1L638.3,442.8L639.5,445.1M661.5,450.1L661.5,442.8M660.2,445.1L661.5,442.8L662.7,445.1M684.6,450.1L684.6,442.8M683.4,445.1L684.6,442.8L685.8,445.1M162.0,470.6L165.5,461.4M162.8,463.7L165.5,461.4L166.0,464.9M185.2,470.7L188.6,461.3M185.9,463.7L188.6,461.3L189.1,464.9M209.0,470.6L211.1,461.4M208.9,463.9L211.1,461.4L212.0,464.7M232.7,470.6L233.7,461.4M231.8,464.2L233.7,461.4L234.9,464.5M256.6,470.3L256.1,461.7M254.8,464.5L256.1,461.7L257.7,464.4M280.6,469.5L278.4,462.5M277.9,465.1L278.4,462.5L280.3,464.4M304.6,468.7L300.7,463.3M301.1,465.9L300.7,463.3L303.1,464.5M327.8,466.0L323.8,466.0M326.1,467.2L323.8,466.0L326.1,464.8M350.9,468.6L347.0,463.4M347.4,465.9L347.0,463.4L349.3,464.5M372.7,461.0L371.5,471.0M373.6,468.0L371.5,471.0L370.2,467.6M395.2,467.3L395.2,464.7M394.0,467.0L395.2,464.7L396.5,467.0M419.7,464.0L417.1,468.0M419.4,466.7L417.1,468.0L417.3,465.4M443.5,468.3L439.6,463.7M440.1,466.2L439.6,463.7L442.0,464.6M464.4,470.0L465.0,462.0M463.5,464.4L465.0,462.0L466.2,464.7M487.2,470.6L488.5,461.4M486.5,464.1L488.5,461.4L489.6,464.5M510.0,470.0L512.0,462.0M510.0,464.2L512.0,462.0L512.7,464.9M533.7,469.9L534.6,462.1M533.0,464.4L534.6,462.1L535.6,464.7M557.0,469.8L557.6,462.2M556.1,464.5L557.6,462.2L558.7,464.7M580.4,469.6L580.5,462.4M579.3,464.7L580.5,462.4L581.7,464.7M603.6,469.6L603.6,462.4M602.4,464.7L603.6,462.4L604.8,464.7M626.8,469.7L626.8,462.3M625.5,464.6L626.8,462.3L628.0,464.6M649.9,469.9L649.9,462.1M648.6,464.6L649.9,462.1L651.2,464.6M673.0,469.9L673.0,462.1M671.7,464.6L673.0,462.1L674.4,464.6M174.1,490.4L176.5,480.7M174.1,483.4L176.5,480.7L177.4,484.2M197.5,490.2L199.4,480.9M197.2,483.5L199.4,480.9L200.4,484.2M221.1,490.0L222.1,481.1M220.3,483.8L222.1,481.1L223.3,484.1M244.7,489.6L244.8,481.5M243.4,484.1L244.8,481.5L246.1,484.1M268.2,489.3L267.6,481.8M266.5,484.3L267.6,481.8L269.1,484.1M291.8,489.1L290.3,482.0M289.6,484.5L290.3,482.0L292.0,484.0M315.4,488.9L313.0,482.2M312.6,484.7L313.0,482.2L314.9,483.9M335.7,490.1L339.0,481.0M336.4,483.4L339.0,481.0L339.5,484.4M359.2,485.6L361.8,485.6M359.5,484.3L361.8,485.6L359.5,486.8M383.3,488.9L384.0,482.2M382.5,484.4L384.0,482.2L385.0,484.7M408.1,488.2L405.5,482.9M405.4,485.5L405.5,482.9L407.6,484.4M431.6,490.1L428.3,481.0M427.8,484.4L428.3,481.0L430.9,483.4M452.8,490.6L453.4,480.5M451.5,483.6L453.4,480.5L454.9,483.8M476.2,488.9L476.2,482.2M475.0,484.5L476.2,482.2L477.5,484.5M497.8,488.9L501.0,482.2M498.9,483.8L501.0,482.2L501.1,484.9M522.1,489.5L523.0,481.6M521.4,484.0L523.0,481.6L524.0,484.3M545.4,489.4L546.0,481.7M544.5,484.0L546.0,481.7L547.1,484.2M568.7,489.4L569.0,481.7M567.6,484.1L569.0,481.7L570.2,484.2M592.0,489.3L592.0,481.8M590.7,484.2L592.0,481.8L593.3,484.2M615.1,489.4L615.1,481.7M613.8,484.1L615.1,481.7L616.5,484.1M638.3,489.5L638.3,481.6M637.0,484.1L638.3,481.6L639.6,484.1M661.5,489.6L661.5,481.5M660.1,484.1L661.5,481.5L662.8,484.1M684.6,489.6L684.6,481.5M683.2,484.1L684.6,481.5L686.0,484.1M163.1,510.1L164.4,500.1M162.3,503.1L164.4,500.1L165.7,503.5M186.3,510.0L187.5,500.2M185.5,503.1L187.5,500.2L188.8,503.5M209.6,509.6L210.5,500.6M208.7,503.3L210.5,500.6L211.7,503.6M233.0,508.9L233.4,501.3M232.0,503.6L233.4,501.3L234.6,503.8M256.4,508.6L256.3,501.6M255.1,503.9L256.3,501.6L257.6,503.9M279.5,509.0L279.5,501.2M278.2,503.7L279.5,501.2L280.8,503.7M302.7,509.4L302.6,500.8M301.2,503.6L302.6,500.8L304.1,503.5M324.5,509.1L327.1,501.1M324.9,503.2L327.1,501.1L327.6,504.1M348.3,508.4L349.6,501.8M348.0,503.8L349.6,501.8L350.4,504.3M372.1,510.4L372.1,499.8M370.3,503.2L372.1,499.8L373.9,503.2M395.2,510.1L395.2,500.1M393.6,503.3L395.2,500.1L396.9,503.3M419.7,509.7L417.1,500.5M416.4,503.9L417.1,500.5L419.5,503.0M442.2,509.7L440.9,500.5M439.8,503.6L440.9,500.5L442.9,503.2M464.4,508.4L465.0,501.8M463.6,504.0L465.0,501.8L466.0,504.2M489.8,504.8L485.9,505.4M488.3,506.3L485.9,505.4L487.9,503.8M509.4,508.4L512.6,501.8M510.5,503.3L512.6,501.8L512.7,504.5M533.9,509.1L534.4,501.1M532.9,503.6L534.4,501.1L535.6,503.8M557.1,509.1L557.5,501.1M556.0,503.6L557.5,501.1L558.7,503.7M580.4,509.0L580.5,501.2M579.1,503.6L580.5,501.2L581.8,503.7M603.6,509.1L603.6,501.1M602.2,503.6L603.6,501.1L605.0,503.6M626.8,509.2L626.8,501.0M625.4,503.6L626.8,501.0L628.1,503.6M649.9,509.3L649.9,500.9M648.5,503.6L649.9,500.9L651.3,503.6M673.0,509.4L673.0,500.8M671.6,503.5L673.0,500.8L674.5,503.5M174.7,529.6L175.9,519.7M173.8,522.7L175.9,519.7L177.2,523.1M198.1,529.3L198.8,520.0M197.0,522.8L198.8,520.0L200.2,523.1M221.5,528.8L221.7,520.5M220.2,523.1L221.7,520.5L223.1,523.2M244.9,528.2L244.6,521.1M243.5,523.4L244.6,521.1L245.9,523.3M268.0,528.4L267.8,520.9M266.6,523.3L267.8,520.9L269.1,523.2M291.1,528.7L291.0,520.6M289.7,523.2L291.0,520.6L292.4,523.1M314.2,529.1L314.2,520.2M312.7,523.0L314.2,520.2L315.7,523.0M337.4,528.6L337.4,520.7M336.0,523.2L337.4,520.7L338.7,523.2M360.5,529.7L360.5,519.6M358.8,522.8L360.5,519.6L362.2,522.8M383.0,529.6L384.3,519.7M382.2,522.6L384.3,519.7L385.6,523.0M406.8,530.2L406.8,519.1M404.9,522.6L406.8,519.1L408.7,522.6M430.9,528.6L429.0,520.7M428.3,523.5L429.0,520.7L430.9,522.9M453.1,528.0L453.1,521.4M451.9,523.6L453.1,521.4L454.3,523.6M476.2,527.0L476.2,522.3M475.0,524.6L476.2,522.3L477.5,524.6M499.4,527.6L499.4,521.7M498.2,524.0L499.4,521.7L500.6,524.0M522.3,528.7L522.8,520.6M521.3,523.1L522.8,520.6L524.0,523.3M545.5,528.7L545.9,520.6M544.4,523.1L545.9,520.6L547.1,523.2M568.8,528.6L568.9,520.7M567.5,523.2L568.9,520.7L570.2,523.2M592.0,528.6L592.0,520.7M590.7,523.2L592.0,520.7L593.3,523.2M615.1,528.7L615.1,520.6M613.8,523.2L615.1,520.6L616.5,523.2M638.3,528.8L638.3,520.5M636.9,523.1L638.3,520.5L639.7,523.1M661.5,528.9L661.5,520.4M660.0,523.1L661.5,520.4L662.9,523.1M684.6,528.9L684.6,520.4M683.1,523.1L684.6,520.4L686.1,523.1M163.3,549.0L164.2,539.4M162.3,542.3L164.2,539.4L165.5,542.6M186.5,548.9L187.3,539.5M185.4,542.3L187.3,539.5L188.7,542.6M209.9,548.6L210.2,539.8M208.6,542.6L210.2,539.8L211.6,542.6M233.4,548.2L233.0,540.2M231.8,542.8L233.0,540.2L234.5,542.7M256.7,547.9L256.0,540.5M255.0,543.0L256.0,540.5L257.5,542.7M279.7,548.1L279.3,540.3M278.1,542.8L279.3,540.3L280.8,542.7M302.7,548.3L302.6,540.1M301.2,542.7L302.6,540.1L304.0,542.7M325.1,548.8L326.5,539.6M324.5,542.3L326.5,539.6L327.6,542.7M350.3,546.8L347.6,541.6M347.6,544.2L347.6,541.6L349.7,543.1M370.1,546.5L374.1,541.9M371.7,542.8L374.1,541.9L373.5,544.4M395.2,548.2L395.2,540.2M393.9,542.8L395.2,540.2L396.6,542.8M418.4,548.2L418.4,540.2M417.1,542.8L418.4,540.2L419.7,542.8M441.2,548.2L441.9,540.2M440.3,542.6L441.9,540.2L443.0,542.9M464.7,547.5L464.7,540.9M463.5,543.2L464.7,540.9L465.9,543.2M487.8,548.2L487.8,540.2M486.5,542.8L487.8,540.2L489.2,542.8M510.7,548.2L511.3,540.2M509.8,542.6L511.3,540.2L512.5,542.9M534.0,548.3L534.3,540.1M532.8,542.7L534.3,540.1L535.6,542.7M557.2,548.2L557.4,540.2M556.0,542.7L557.4,540.2L558.7,542.8M580.4,548.2L580.5,540.2M579.1,542.7L580.5,540.2L581.8,542.8M603.6,548.2L603.6,540.2M602.2,542.7L603.6,540.2L605.0,542.7M626.8,548.3L626.8,540.1M625.4,542.7L626.8,540.1L628.1,542.7M649.9,548.5L649.9,539.9M648.5,542.6L649.9,539.9L651.3,542.6M673.0,548.5L673.0,539.9M671.6,542.6L673.0,539.9L674.5,542.6M174.9,568.4L175.7,559.1M173.9,561.9L175.7,559.1L177.0,562.2M198.3,568.3L198.6,559.2M197.0,562.1L198.6,559.2L200.0,562.2M221.8,568.0L221.4,559.5M220.1,562.3L221.4,559.5L223.0,562.2M245.2,567.7L244.3,559.8M243.3,562.5L244.3,559.8L245.9,562.2M268.3,567.7L267.5,559.8M266.4,562.5L267.5,559.8L269.1,562.2M291.3,567.7L290.8,559.8M289.6,562.4L290.8,559.8L292.3,562.2M314.2,567.8L314.2,559.7M312.8,562.3L314.2,559.7L315.6,562.3M337.4,568.4L337.4,559.1M335.8,562.1L337.4,559.1L338.9,562.1M361.5,567.0L359.5,560.5M359.0,563.0L359.5,560.5L361.3,562.3M384.0,567.4L383.3,560.1M382.3,562.5L383.3,560.1L384.8,562.3M408.1,567.0L405.5,560.5M405.2,563.0L405.5,560.5L407.5,562.1M427.3,566.1L432.6,561.4M430.1,562.0L432.6,561.4L431.7,563.9M454.4,566.1L451.8,561.4M451.9,564.0L451.8,561.4L454.0,562.8M477.6,567.7L474.9,559.8M474.4,562.8L474.9,559.8L477.1,561.9M499.4,567.0L499.4,560.5M498.2,562.7L499.4,560.5L500.6,562.7M522.5,568.0L522.6,559.5M521.1,562.2L522.6,559.5L524.0,562.2M545.7,567.9L545.7,559.6M544.3,562.2L545.7,559.6L547.1,562.3M568.8,567.8L568.9,559.7M567.5,562.3L568.9,559.7L570.2,562.3M592.0,567.7L592.0,559.8M590.7,562.3L592.0,559.8L593.3,562.3M615.1,567.8L615.1,559.7M613.8,562.3L615.1,559.7L616.5,562.3M638.3,567.9L638.3,559.6M636.9,562.2L638.3,559.6L639.7,562.2M661.5,568.0L661.5,559.5M660.0,562.2L661.5,559.5L662.9,562.2M684.6,568.0L684.6,559.5M683.1,562.2L684.6,559.5L686.1,562.2M163.4,587.9L164.1,578.7M162.3,581.5L164.1,578.7L165.4,581.7M186.6,587.9L187.2,578.7M185.4,581.5L187.2,578.7L188.5,581.7M210.1,587.6L210.0,579.0M208.6,581.7L210.0,579.0L211.5,581.7M233.6,587.4L232.8,579.2M231.7,581.9L232.8,579.2L234.4,581.7M256.9,587.3L255.8,579.3M254.8,582.1L255.8,579.3L257.5,581.7M279.9,587.3L279.1,579.3M278.0,582.0L279.1,579.3L280.7,581.7M302.8,587.3L302.5,579.3M301.3,581.9L302.5,579.3L303.9,581.8M325.8,587.3L325.8,579.3M324.5,581.9L325.8,579.3L327.1,581.9M351.6,584.3L346.3,582.3M348.0,584.3L346.3,582.3L348.9,582.0M374.1,587.3L370.1,579.3M370.0,582.5L370.1,579.3L372.7,581.2M395.2,586.6L395.2,580.0M394.0,582.3L395.2,580.0L396.5,582.3M414.4,584.3L422.4,582.3M419.5,581.6L422.4,582.3L420.2,584.3M440.2,583.3L442.9,583.3M440.6,582.1L442.9,583.3L440.6,584.5M466.0,587.3L463.4,579.3M462.9,582.3L463.4,579.3L465.6,581.4M487.8,587.9L487.8,578.7M486.3,581.6L487.8,578.7L489.4,581.6M510.7,587.9L511.3,578.7M509.6,581.5L511.3,578.7L512.7,581.7M534.1,587.5L534.1,579.1M532.7,581.8L534.1,579.1L535.6,581.8M557.3,587.4L557.3,579.2M555.9,581.8L557.3,579.2L558.7,581.8M580.5,587.3L580.5,579.3M579.1,581.8L580.5,579.3L581.8,581.8M603.6,587.3L603.6,579.3M602.2,581.8L603.6,579.3L605.0,581.8M626.8,587.4L626.8,579.2M625.4,581.8L626.8,579.2L628.1,581.8M649.9,587.6L649.9,579.0M648.5,581.7L649.9,579.0L651.3,581.7M673.0,587.6L673.0,579.0M671.6,581.7L673.0,579.0L674.5,581.7M175.0,607.5L175.6,598.2M173.9,601.1L175.6,598.2L177.0,601.3M198.4,607.3L198.5,598.4M197.0,601.2L198.5,598.4L200.0,601.3M221.8,607.1L221.4,598.6M220.1,601.4L221.4,598.6L222.9,601.2M245.3,606.9L244.2,598.8M243.2,601.6L244.2,598.8L245.9,601.2M268.4,606.8L267.4,598.9M266.4,601.6L267.4,598.9L269.1,601.2M291.3,606.8L290.8,598.9M289.6,601.5L290.8,598.9L292.3,601.3M314.2,606.8L314.2,598.9M312.9,601.4L314.2,598.9L315.5,601.4M337.4,606.8L337.4,598.9M336.0,601.4L337.4,598.9L338.7,601.4M360.4,606.6L360.6,599.1M359.2,601.4L360.6,599.1L361.8,601.5M383.3,606.2L384.0,599.5M382.5,601.7L384.0,599.5L385.0,601.9M406.3,605.7L407.3,600.0M405.7,602.0L407.3,600.0L408.1,602.4M429.4,605.7L430.5,600.0M428.9,602.0L430.5,600.0L431.3,602.5M452.8,606.1L453.4,599.6M452.0,601.7L453.4,599.6L454.4,602.0M476.1,606.6L476.4,599.1M475.0,601.4L476.4,599.1L477.6,601.5M499.4,606.9L499.4,598.8M498.0,601.4L499.4,598.8L500.8,601.4M522.5,607.1L522.5,598.6M521.1,601.3L522.5,598.6L524.0,601.3M545.7,607.0L545.7,598.7M544.3,601.3L545.7,598.7L547.1,601.3M568.8,606.9L568.8,598.8M567.5,601.4L568.8,598.8L570.2,601.4M592.0,606.8L592.0,598.9M590.7,601.4L592.0,598.9L593.3,601.4M615.1,606.9L615.1,598.8M613.8,601.4L615.1,598.8L616.5,601.4M638.3,607.0L638.3,598.7M636.9,601.3L638.3,598.7L639.7,601.3M661.5,607.1L661.5,598.6M660.0,601.3L661.5,598.6L662.9,601.3M684.6,607.1L684.6,598.6M683.1,601.3L684.6,598.6L686.1,601.3"/><path fill="none" stroke="#000" stroke-width="1.05" stroke-linejoin="miter" d="M422.50,287.00 424.05,291.46 428.78,291.56 425.01,294.42 426.38,298.94 422.50,296.24 418.62,298.94 419.99,294.42 416.22,291.56 420.95,291.46z"/><path fill="none" stroke="#000" stroke-width="1.05" stroke-linejoin="miter" d="M458.40,445.20 459.95,449.66 464.68,449.76 460.91,452.62 462.28,457.14 458.40,454.44 454.52,457.14 455.89,452.62 452.12,449.76 456.85,449.66z"/>
</g>
<g stroke="#000" stroke-width="1.2" fill="none"><path d="M163,603.5v-13"/><path d="M277,603.5v-13"/><path d="M391,603.5v-13"/><path d="M505,603.5v-13"/><path d="M618.5,603.5v-13"/><path d="M187,72.5v13"/><path d="M290.6,72.5v13"/><path d="M394,72.5v13"/><path d="M496.8,72.5v13"/><path d="M600,72.5v13"/><path d="M154,100h13"/><path d="M685,100h-13"/><path d="M154,232.5h13"/><path d="M685,232.5h-13"/><path d="M154,365h13"/><path d="M685,365h-13"/><path d="M154,497h13"/><path d="M685,497h-13"/></g>
<rect x="154" y="72.5" width="531" height="531" fill="none" stroke="#000" stroke-width="1.35"/>
<rect x="658.5" y="72.3" width="30" height="38.8" fill="#fff" stroke="#333" stroke-width="0.7"/>
<text x="672.6" y="87.2" text-anchor="middle" font-size="15">8</text>
<path d="M661.6,97.5H683.7M678.6,95.4L683.7,97.5L678.6,99.6" fill="none" stroke="#111" stroke-width="0.7"/>
<text x="299" y="27.3" font-size="14.3" font-weight="bold">2022/12/7/1UTC (19LT), Wednesday</text>
<text x="299" y="42.5" font-size="14.3" font-weight="bold">FV3m0b0l0_GFS025</text>
<text x="152.6" y="63.4" font-size="24.4">volumetric soil moisture 0-10cm</text>
<text x="686.3" y="63.4" font-size="24.4" text-anchor="end">fraction</text>
<text x="144.6" y="237.9" font-size="14.8" text-anchor="end">36°N</text>
<text x="144.6" y="502.4" font-size="14.8" text-anchor="end">32°N</text>
<text x="163.2" y="625" font-size="14.6" text-anchor="middle">102°W</text>
<text x="391" y="625" font-size="14.6" text-anchor="middle">98°W</text>
<text x="618.5" y="625" font-size="14.6" text-anchor="middle">94°W</text>
<text x="226" y="619.3" font-size="14.65">Min= .032 Max= 1</text>
<rect x="161.90" y="628" width="32.15" height="13.7" fill="#0000ff" stroke="#222" stroke-width="0.6"/>
<rect x="194.05" y="628" width="32.15" height="13.7" fill="#0064fa" stroke="#222" stroke-width="0.6"/>
<rect x="226.20" y="628" width="32.15" height="13.7" fill="#00c8ff" stroke="#222" stroke-width="0.6"/>
<rect x="258.35" y="628" width="32.15" height="13.7" fill="#00ebd2" stroke="#222" stroke-width="0.6"/>
<rect x="290.50" y="628" width="32.15" height="13.7" fill="#00cd73" stroke="#222" stroke-width="0.6"/>
<rect x="322.65" y="628" width="32.15" height="13.7" fill="#00af19" stroke="#222" stroke-width="0.6"/>
<rect x="354.80" y="628" width="32.15" height="13.7" fill="#69cd0a" stroke="#222" stroke-width="0.6"/>
<rect x="386.95" y="628" width="32.15" height="13.7" fill="#cdeb0a" stroke="#222" stroke-width="0.6"/>
<rect x="419.10" y="628" width="32.15" height="13.7" fill="#fff000" stroke="#222" stroke-width="0.6"/>
<rect x="451.25" y="628" width="32.15" height="13.7" fill="#ffc800" stroke="#222" stroke-width="0.6"/>
<rect x="483.40" y="628" width="32.15" height="13.7" fill="#ffa000" stroke="#222" stroke-width="0.6"/>
<rect x="515.55" y="628" width="32.15" height="13.7" fill="#ff6400" stroke="#222" stroke-width="0.6"/>
<rect x="547.70" y="628" width="32.15" height="13.7" fill="#ff2800" stroke="#222" stroke-width="0.6"/>
<rect x="579.85" y="628" width="32.15" height="13.7" fill="#dc0014" stroke="#222" stroke-width="0.6"/>
<rect x="612.00" y="628" width="32.15" height="13.7" fill="#a00050" stroke="#222" stroke-width="0.6"/>
<rect x="644.15" y="628" width="32.15" height="13.7" fill="#5a0096" stroke="#222" stroke-width="0.6"/>
<text x="194.1" y="656.6" text-anchor="middle" font-size="13.2">0.1</text>
<text x="258.4" y="656.6" text-anchor="middle" font-size="13.2">0.2</text>
<text x="322.6" y="656.6" text-anchor="middle" font-size="13.2">0.3</text>
<text x="386.9" y="656.6" text-anchor="middle" font-size="13.2">0.4</text>
<text x="451.2" y="656.6" text-anchor="middle" font-size="13.2">0.5</text>
<text x="515.5" y="656.6" text-anchor="middle" font-size="13.2">0.6</text>
<text x="579.9" y="656.6" text-anchor="middle" font-size="13.2">0.7</text>
<text x="644.1" y="656.6" text-anchor="middle" font-size="13.2">0.8</text>
</svg>
</body></html>
